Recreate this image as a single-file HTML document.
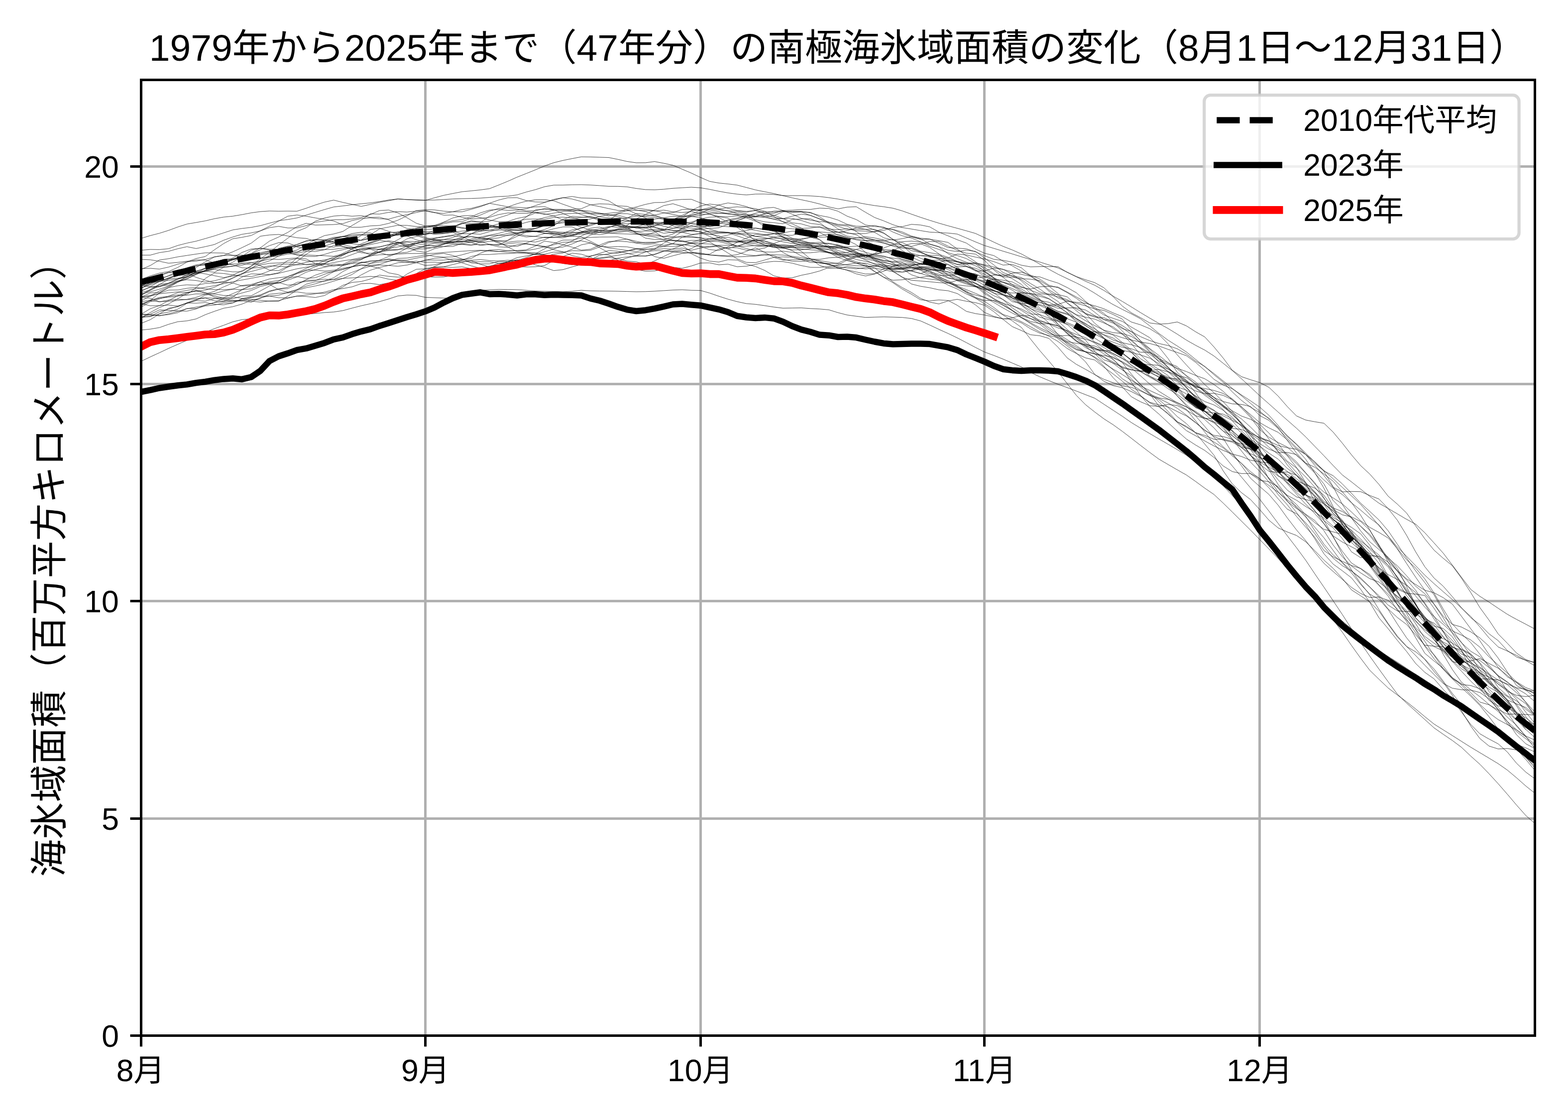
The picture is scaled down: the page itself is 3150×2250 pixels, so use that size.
<!DOCTYPE html>
<html lang="ja"><head><meta charset="utf-8"><title>南極海氷域面積の変化</title>
<style>html,body{margin:0;padding:0;background:#fff;font-family:"Liberation Sans",sans-serif}body{width:3150px;height:2250px;overflow:hidden}</style>
</head><body>
<svg width="3150" height="2250" viewBox="0 0 3150 2250" style="display:block">
<title>1979年から2025年まで（47年分）の南極海氷域面積の変化（8月1日〜12月31日）</title><desc>海氷域面積（百万平方キロメートル） 凡例: 2010年代平均, 2023年, 2025年。 横軸: 8月 9月 10月 11月 12月。 縦軸: 0 5 10 15 20</desc>
<defs><clipPath id="ax"><rect x="283.5" y="160.5" width="2800.0" height="1920.0"/></clipPath></defs>
<rect width="3150" height="2250" fill="#fff"/>
<path d="M854.5,160.5 V2080.5 M1407.5,160.5 V2080.5 M1977.5,160.5 V2080.5 M2530.5,160.5 V2080.5 M283.5,1644.5 H3083.5 M283.5,1207.5 H3083.5 M283.5,771.5 H3083.5 M283.5,334.5 H3083.5" stroke="#b0b0b0" stroke-width="5" fill="none"/>
<g clip-path="url(#ax)">
<path d="M283.5,663.0 L301.9,661.2 L320.3,658.1 L338.8,651.5 L357.2,646.3 L375.6,644.6 L394.0,640.7 L412.4,632.2 L430.9,625.4 L449.3,619.2 L467.7,616.1 L486.1,610.9 L504.6,603.2 L523.0,599.3 L541.4,591.2 L559.8,589.1 L578.2,588.5 L596.7,586.4 L615.1,589.2 L633.5,589.0 L651.9,589.3 L670.3,584.6 L688.8,576.6 L707.2,563.7 L725.6,552.3 L744.0,542.8 L762.4,537.2 L780.9,533.3 L799.3,527.8 L817.7,526.3 L836.1,524.7 L854.6,527.0 L873.0,526.6 L891.4,528.2 L909.8,526.4 L928.2,523.3 L946.7,515.3 L965.1,511.3 L983.5,511.3 L1001.9,509.9 L1020.3,509.5 L1038.8,508.0 L1057.2,508.7 L1075.6,511.5 L1094.0,510.6 L1112.4,506.5 L1130.9,506.7 L1149.3,503.7 L1167.7,503.9 L1186.1,502.9 L1204.6,496.1 L1223.0,487.1 L1241.4,482.6 L1259.8,480.3 L1278.2,484.8 L1296.7,488.5 L1315.1,487.5 L1333.5,484.0 L1351.9,490.3 L1370.3,490.9 L1388.8,494.3 L1407.2,495.0 L1425.6,495.4 L1444.0,492.8 L1462.4,492.8 L1480.9,494.9 L1499.3,488.5 L1517.7,480.4 L1536.1,479.3 L1554.6,478.4 L1573.0,479.4 L1591.4,480.9 L1609.8,483.5 L1628.2,489.1 L1646.7,489.6 L1665.1,488.7 L1683.5,492.9 L1701.9,500.8 L1720.3,509.3 L1738.8,512.8 L1757.2,518.9 L1775.6,526.2 L1794.0,532.2 L1812.4,537.1 L1830.9,536.6 L1849.3,538.8 L1867.7,546.3 L1886.1,550.9 L1904.6,558.8 L1923.0,562.0 L1941.4,565.7 L1959.8,573.6 L1978.2,587.0 L1996.7,599.9 L2015.1,609.7 L2033.5,614.6 L2051.9,620.8 L2070.3,630.7 L2088.8,632.0 L2107.2,639.2 L2125.6,643.8 L2144.0,652.1 L2162.4,667.7 L2180.9,683.6 L2199.3,706.0 L2217.7,722.9 L2236.1,729.1 L2254.6,736.8 L2273.0,742.6 L2291.4,746.8 L2309.8,755.9 L2328.2,764.0 L2346.7,777.3 L2365.1,795.4 L2383.5,815.7 L2401.9,835.5 L2420.3,856.7 L2438.8,878.7 L2457.2,897.6 L2475.6,913.1 L2494.0,930.9 L2512.4,952.1 L2530.9,964.7 L2549.3,967.9 L2567.7,977.5 L2586.1,997.2 L2604.6,1013.6 L2623.0,1034.2 L2641.4,1049.9 L2659.8,1063.4 L2678.2,1068.5 L2696.7,1073.5 L2715.1,1085.7 L2733.5,1100.0 L2751.9,1112.0 L2770.3,1121.9 L2788.8,1139.1 L2807.2,1166.3 L2825.6,1196.1 L2844.0,1220.4 L2862.4,1245.2 L2880.9,1273.1 L2899.3,1300.8 L2917.7,1316.3 L2936.1,1322.1 L2954.6,1332.6 L2973.0,1359.7 L2991.4,1389.4 L3009.8,1409.0 L3028.2,1430.3 L3046.7,1447.2 L3065.1,1452.6 L3083.5,1460.3 M283.5,649.7 L301.9,642.2 L320.3,630.7 L338.8,619.2 L357.2,616.2 L375.6,608.2 L394.0,601.7 L412.4,598.8 L430.9,604.4 L449.3,605.6 L467.7,597.5 L486.1,581.8 L504.6,573.6 L523.0,566.3 L541.4,571.3 L559.8,582.0 L578.2,587.0 L596.7,581.6 L615.1,574.8 L633.5,570.2 L651.9,564.2 L670.3,558.1 L688.8,545.5 L707.2,536.1 L725.6,531.9 L744.0,533.0 L762.4,531.2 L780.9,525.0 L799.3,519.2 L817.7,518.4 L836.1,515.5 L854.6,512.2 L873.0,514.9 L891.4,516.6 L909.8,516.0 L928.2,511.9 L946.7,506.7 L965.1,503.5 L983.5,504.3 L1001.9,505.4 L1020.3,503.7 L1038.8,503.3 L1057.2,502.0 L1075.6,494.2 L1094.0,484.4 L1112.4,487.2 L1130.9,491.8 L1149.3,496.5 L1167.7,502.5 L1186.1,500.7 L1204.6,492.3 L1223.0,485.1 L1241.4,484.6 L1259.8,485.6 L1278.2,488.3 L1296.7,490.9 L1315.1,489.7 L1333.5,492.8 L1351.9,489.3 L1370.3,476.7 L1388.8,472.1 L1407.2,468.8 L1425.6,464.0 L1444.0,465.6 L1462.4,466.7 L1480.9,470.5 L1499.3,471.2 L1517.7,475.0 L1536.1,477.5 L1554.6,481.6 L1573.0,485.9 L1591.4,489.1 L1609.8,490.8 L1628.2,492.3 L1646.7,502.3 L1665.1,508.5 L1683.5,513.0 L1701.9,518.8 L1720.3,526.0 L1738.8,530.6 L1757.2,545.4 L1775.6,557.0 L1794.0,563.0 L1812.4,562.0 L1830.9,559.6 L1849.3,557.2 L1867.7,554.5 L1886.1,559.7 L1904.6,567.3 L1923.0,577.3 L1941.4,584.9 L1959.8,597.4 L1978.2,603.5 L1996.7,603.6 L2015.1,608.8 L2033.5,623.4 L2051.9,634.4 L2070.3,639.7 L2088.8,650.7 L2107.2,666.1 L2125.6,680.5 L2144.0,695.0 L2162.4,709.2 L2180.9,727.1 L2199.3,752.1 L2217.7,765.9 L2236.1,774.7 L2254.6,778.7 L2273.0,786.7 L2291.4,796.1 L2309.8,808.0 L2328.2,813.5 L2346.7,817.6 L2365.1,826.7 L2383.5,835.6 L2401.9,849.2 L2420.3,864.0 L2438.8,876.9 L2457.2,884.2 L2475.6,888.2 L2494.0,898.5 L2512.4,902.2 L2530.9,912.9 L2549.3,923.3 L2567.7,940.9 L2586.1,956.7 L2604.6,966.8 L2623.0,973.4 L2641.4,980.6 L2659.8,994.9 L2678.2,1021.4 L2696.7,1053.1 L2715.1,1076.4 L2733.5,1095.1 L2751.9,1117.6 L2770.3,1148.2 L2788.8,1183.1 L2807.2,1214.9 L2825.6,1243.8 L2844.0,1271.2 L2862.4,1297.3 L2880.9,1315.2 L2899.3,1338.0 L2917.7,1361.9 L2936.1,1373.3 L2954.6,1391.5 L2973.0,1410.4 L2991.4,1415.9 L3009.8,1426.3 L3028.2,1449.4 L3046.7,1476.2 L3065.1,1494.1 L3083.5,1503.9 M283.5,587.6 L301.9,582.8 L320.3,574.8 L338.8,568.5 L357.2,560.9 L375.6,551.6 L394.0,544.4 L412.4,539.9 L430.9,535.5 L449.3,531.0 L467.7,520.6 L486.1,515.6 L504.6,512.3 L523.0,509.8 L541.4,505.0 L559.8,500.2 L578.2,495.0 L596.7,496.0 L615.1,500.4 L633.5,501.8 L651.9,501.6 L670.3,500.8 L688.8,498.3 L707.2,498.0 L725.6,493.9 L744.0,488.2 L762.4,482.7 L780.9,485.4 L799.3,492.3 L817.7,496.3 L836.1,488.5 L854.6,484.3 L873.0,479.0 L891.4,476.1 L909.8,473.6 L928.2,476.3 L946.7,475.2 L965.1,477.6 L983.5,479.7 L1001.9,486.8 L1020.3,496.2 L1038.8,505.4 L1057.2,506.9 L1075.6,507.6 L1094.0,512.0 L1112.4,514.1 L1130.9,518.3 L1149.3,522.8 L1167.7,522.3 L1186.1,522.9 L1204.6,524.2 L1223.0,523.8 L1241.4,518.6 L1259.8,516.1 L1278.2,514.6 L1296.7,514.0 L1315.1,510.6 L1333.5,504.1 L1351.9,504.0 L1370.3,501.6 L1388.8,509.6 L1407.2,518.6 L1425.6,524.6 L1444.0,526.4 L1462.4,521.8 L1480.9,522.4 L1499.3,530.5 L1517.7,535.4 L1536.1,543.2 L1554.6,554.2 L1573.0,558.4 L1591.4,558.0 L1609.8,553.0 L1628.2,549.3 L1646.7,544.4 L1665.1,537.3 L1683.5,535.9 L1701.9,538.3 L1720.3,540.0 L1738.8,537.5 L1757.2,533.7 L1775.6,531.7 L1794.0,535.2 L1812.4,539.8 L1830.9,552.0 L1849.3,558.0 L1867.7,560.6 L1886.1,562.9 L1904.6,572.8 L1923.0,580.5 L1941.4,590.6 L1959.8,598.8 L1978.2,605.7 L1996.7,617.9 L2015.1,631.9 L2033.5,637.6 L2051.9,646.3 L2070.3,656.4 L2088.8,666.9 L2107.2,675.4 L2125.6,686.0 L2144.0,700.1 L2162.4,710.3 L2180.9,719.0 L2199.3,723.2 L2217.7,737.8 L2236.1,751.1 L2254.6,765.6 L2273.0,782.2 L2291.4,794.7 L2309.8,809.3 L2328.2,817.4 L2346.7,830.5 L2365.1,849.0 L2383.5,865.2 L2401.9,875.4 L2420.3,885.8 L2438.8,895.9 L2457.2,904.8 L2475.6,912.2 L2494.0,917.0 L2512.4,924.6 L2530.9,927.8 L2549.3,930.1 L2567.7,941.0 L2586.1,957.6 L2604.6,977.5 L2623.0,1004.6 L2641.4,1026.5 L2659.8,1046.1 L2678.2,1060.3 L2696.7,1082.1 L2715.1,1108.6 L2733.5,1120.3 L2751.9,1116.4 L2770.3,1117.5 L2788.8,1129.2 L2807.2,1147.4 L2825.6,1164.5 L2844.0,1185.8 L2862.4,1213.7 L2880.9,1243.5 L2899.3,1269.9 L2917.7,1292.6 L2936.1,1322.4 L2954.6,1342.2 L2973.0,1353.0 L2991.4,1360.1 L3009.8,1370.2 L3028.2,1385.6 L3046.7,1405.2 L3065.1,1430.6 L3083.5,1453.4 M283.5,610.5 L301.9,604.1 L320.3,597.5 L338.8,595.3 L357.2,592.5 L375.6,593.1 L394.0,590.4 L412.4,590.6 L430.9,594.1 L449.3,599.1 L467.7,600.2 L486.1,594.8 L504.6,594.1 L523.0,584.6 L541.4,574.3 L559.8,565.1 L578.2,555.4 L596.7,548.0 L615.1,539.0 L633.5,531.7 L651.9,530.2 L670.3,519.9 L688.8,508.9 L707.2,499.9 L725.6,489.8 L744.0,483.0 L762.4,479.0 L780.9,475.5 L799.3,472.2 L817.7,464.8 L836.1,468.4 L854.6,471.5 L873.0,466.8 L891.4,463.7 L909.8,464.4 L928.2,469.6 L946.7,469.5 L965.1,470.6 L983.5,465.3 L1001.9,460.7 L1020.3,452.3 L1038.8,452.0 L1057.2,446.8 L1075.6,442.5 L1094.0,437.1 L1112.4,433.6 L1130.9,429.9 L1149.3,428.8 L1167.7,428.2 L1186.1,429.6 L1204.6,430.2 L1223.0,428.4 L1241.4,426.5 L1259.8,419.8 L1278.2,415.8 L1296.7,410.6 L1315.1,406.9 L1333.5,406.7 L1351.9,402.1 L1370.3,400.6 L1388.8,400.3 L1407.2,407.7 L1425.6,413.2 L1444.0,420.1 L1462.4,423.8 L1480.9,423.9 L1499.3,426.4 L1517.7,422.3 L1536.1,418.1 L1554.6,416.6 L1573.0,422.8 L1591.4,430.2 L1609.8,438.6 L1628.2,442.4 L1646.7,445.0 L1665.1,446.4 L1683.5,450.7 L1701.9,451.9 L1720.3,457.1 L1738.8,460.7 L1757.2,460.7 L1775.6,468.0 L1794.0,481.0 L1812.4,493.7 L1830.9,503.5 L1849.3,507.4 L1867.7,513.7 L1886.1,520.5 L1904.6,531.7 L1923.0,540.8 L1941.4,546.5 L1959.8,550.6 L1978.2,556.6 L1996.7,560.3 L2015.1,563.0 L2033.5,566.3 L2051.9,576.0 L2070.3,583.3 L2088.8,590.0 L2107.2,591.9 L2125.6,596.3 L2144.0,601.9 L2162.4,612.8 L2180.9,629.5 L2199.3,649.5 L2217.7,664.1 L2236.1,672.9 L2254.6,688.2 L2273.0,703.8 L2291.4,720.8 L2309.8,732.3 L2328.2,734.1 L2346.7,741.5 L2365.1,753.3 L2383.5,768.2 L2401.9,777.6 L2420.3,780.5 L2438.8,784.4 L2457.2,790.4 L2475.6,801.2 L2494.0,817.6 L2512.4,833.0 L2530.9,849.2 L2549.3,859.7 L2567.7,868.5 L2586.1,883.6 L2604.6,901.9 L2623.0,922.6 L2641.4,949.9 L2659.8,981.0 L2678.2,1017.9 L2696.7,1052.4 L2715.1,1080.8 L2733.5,1108.9 L2751.9,1134.3 L2770.3,1157.8 L2788.8,1186.6 L2807.2,1209.9 L2825.6,1226.6 L2844.0,1253.0 L2862.4,1282.9 L2880.9,1299.0 L2899.3,1307.6 L2917.7,1320.8 L2936.1,1337.5 L2954.6,1353.7 L2973.0,1363.9 L2991.4,1364.0 L3009.8,1365.8 L3028.2,1375.6 L3046.7,1391.7 L3065.1,1410.4 L3083.5,1430.5 M283.5,575.0 L301.9,569.3 L320.3,564.7 L338.8,558.9 L357.2,553.0 L375.6,552.7 L394.0,548.3 L412.4,544.5 L430.9,547.0 L449.3,537.2 L467.7,535.0 L486.1,528.5 L504.6,526.9 L523.0,533.6 L541.4,542.7 L559.8,543.8 L578.2,535.2 L596.7,517.9 L615.1,505.5 L633.5,496.6 L651.9,489.0 L670.3,479.4 L688.8,474.9 L707.2,478.4 L725.6,482.8 L744.0,477.2 L762.4,478.8 L780.9,472.7 L799.3,471.2 L817.7,467.3 L836.1,464.6 L854.6,461.1 L873.0,459.9 L891.4,459.3 L909.8,455.6 L928.2,449.1 L946.7,449.2 L965.1,448.5 L983.5,452.5 L1001.9,456.7 L1020.3,457.8 L1038.8,457.7 L1057.2,463.1 L1075.6,465.7 L1094.0,461.1 L1112.4,453.4 L1130.9,440.6 L1149.3,434.5 L1167.7,436.1 L1186.1,437.2 L1204.6,439.1 L1223.0,445.5 L1241.4,453.9 L1259.8,459.2 L1278.2,467.5 L1296.7,478.4 L1315.1,481.1 L1333.5,481.0 L1351.9,476.8 L1370.3,465.2 L1388.8,462.2 L1407.2,466.4 L1425.6,474.9 L1444.0,483.4 L1462.4,486.8 L1480.9,494.7 L1499.3,494.4 L1517.7,493.5 L1536.1,493.1 L1554.6,495.4 L1573.0,496.6 L1591.4,495.8 L1609.8,497.4 L1628.2,496.2 L1646.7,498.9 L1665.1,501.9 L1683.5,508.1 L1701.9,507.3 L1720.3,501.0 L1738.8,497.0 L1757.2,499.5 L1775.6,501.3 L1794.0,502.8 L1812.4,507.0 L1830.9,508.8 L1849.3,513.6 L1867.7,512.8 L1886.1,513.6 L1904.6,519.2 L1923.0,525.1 L1941.4,534.4 L1959.8,544.5 L1978.2,544.3 L1996.7,538.7 L2015.1,541.2 L2033.5,546.2 L2051.9,551.2 L2070.3,554.9 L2088.8,556.2 L2107.2,563.0 L2125.6,568.7 L2144.0,577.7 L2162.4,588.2 L2180.9,605.5 L2199.3,620.4 L2217.7,632.7 L2236.1,639.5 L2254.6,645.6 L2273.0,657.2 L2291.4,667.7 L2309.8,678.4 L2328.2,697.2 L2346.7,720.4 L2365.1,748.1 L2383.5,763.8 L2401.9,779.9 L2420.3,794.1 L2438.8,807.0 L2457.2,822.8 L2475.6,845.4 L2494.0,865.8 L2512.4,882.3 L2530.9,896.2 L2549.3,910.4 L2567.7,922.4 L2586.1,941.0 L2604.6,954.4 L2623.0,969.4 L2641.4,987.8 L2659.8,1007.6 L2678.2,1020.6 L2696.7,1027.5 L2715.1,1039.9 L2733.5,1057.3 L2751.9,1073.6 L2770.3,1095.7 L2788.8,1121.4 L2807.2,1136.7 L2825.6,1156.5 L2844.0,1177.7 L2862.4,1192.8 L2880.9,1213.8 L2899.3,1241.2 L2917.7,1272.3 L2936.1,1300.7 L2954.6,1324.2 L2973.0,1340.3 L2991.4,1354.2 L3009.8,1366.2 L3028.2,1374.2 L3046.7,1381.6 L3065.1,1384.7 L3083.5,1392.5 M283.5,617.2 L301.9,606.0 L320.3,600.4 L338.8,595.0 L357.2,588.0 L375.6,587.6 L394.0,584.6 L412.4,582.8 L430.9,577.0 L449.3,568.0 L467.7,558.7 L486.1,549.6 L504.6,545.4 L523.0,540.5 L541.4,536.2 L559.8,531.0 L578.2,530.4 L596.7,532.2 L615.1,531.3 L633.5,529.4 L651.9,529.7 L670.3,534.4 L688.8,531.1 L707.2,522.5 L725.6,520.4 L744.0,512.3 L762.4,505.7 L780.9,499.1 L799.3,487.3 L817.7,490.6 L836.1,493.8 L854.6,497.6 L873.0,497.4 L891.4,491.3 L909.8,482.3 L928.2,477.0 L946.7,475.6 L965.1,478.6 L983.5,480.9 L1001.9,488.9 L1020.3,493.3 L1038.8,495.1 L1057.2,488.1 L1075.6,481.4 L1094.0,476.4 L1112.4,476.6 L1130.9,477.9 L1149.3,472.8 L1167.7,466.6 L1186.1,463.4 L1204.6,459.5 L1223.0,455.0 L1241.4,456.9 L1259.8,453.8 L1278.2,458.4 L1296.7,456.7 L1315.1,453.2 L1333.5,447.0 L1351.9,447.5 L1370.3,448.8 L1388.8,446.2 L1407.2,440.3 L1425.6,441.3 L1444.0,445.2 L1462.4,448.4 L1480.9,443.7 L1499.3,435.6 L1517.7,435.9 L1536.1,435.3 L1554.6,433.3 L1573.0,425.5 L1591.4,424.4 L1609.8,424.5 L1628.2,427.8 L1646.7,432.9 L1665.1,436.4 L1683.5,442.1 L1701.9,450.7 L1720.3,454.4 L1738.8,454.7 L1757.2,462.4 L1775.6,468.8 L1794.0,481.0 L1812.4,492.5 L1830.9,509.5 L1849.3,518.9 L1867.7,525.1 L1886.1,526.9 L1904.6,523.0 L1923.0,525.6 L1941.4,528.1 L1959.8,528.6 L1978.2,533.7 L1996.7,540.7 L2015.1,551.1 L2033.5,559.9 L2051.9,571.3 L2070.3,589.6 L2088.8,602.1 L2107.2,613.9 L2125.6,614.8 L2144.0,628.7 L2162.4,646.9 L2180.9,661.2 L2199.3,671.2 L2217.7,680.6 L2236.1,687.3 L2254.6,694.3 L2273.0,708.5 L2291.4,725.4 L2309.8,741.6 L2328.2,753.3 L2346.7,759.3 L2365.1,761.1 L2383.5,768.3 L2401.9,776.2 L2420.3,783.4 L2438.8,798.4 L2457.2,816.4 L2475.6,833.6 L2494.0,849.1 L2512.4,870.7 L2530.9,896.0 L2549.3,917.0 L2567.7,936.0 L2586.1,956.9 L2604.6,975.5 L2623.0,993.2 L2641.4,1006.3 L2659.8,1022.1 L2678.2,1043.4 L2696.7,1058.8 L2715.1,1077.6 L2733.5,1096.1 L2751.9,1118.5 L2770.3,1142.9 L2788.8,1165.1 L2807.2,1188.8 L2825.6,1215.8 L2844.0,1241.9 L2862.4,1261.3 L2880.9,1284.9 L2899.3,1309.8 L2917.7,1329.4 L2936.1,1332.4 L2954.6,1327.3 L2973.0,1323.0 L2991.4,1332.9 L3009.8,1342.3 L3028.2,1357.0 L3046.7,1371.6 L3065.1,1386.3 L3083.5,1400.5 M283.5,614.2 L301.9,603.5 L320.3,588.8 L338.8,577.6 L357.2,574.1 L375.6,572.2 L394.0,573.1 L412.4,569.5 L430.9,568.5 L449.3,566.8 L467.7,568.5 L486.1,574.5 L504.6,573.7 L523.0,571.1 L541.4,566.1 L559.8,563.6 L578.2,558.0 L596.7,555.6 L615.1,559.2 L633.5,557.8 L651.9,551.0 L670.3,544.8 L688.8,541.4 L707.2,535.9 L725.6,533.0 L744.0,534.6 L762.4,539.3 L780.9,548.2 L799.3,551.5 L817.7,560.2 L836.1,561.5 L854.6,556.0 L873.0,556.7 L891.4,556.4 L909.8,552.8 L928.2,550.7 L946.7,549.0 L965.1,547.8 L983.5,539.8 L1001.9,532.2 L1020.3,525.5 L1038.8,517.5 L1057.2,514.3 L1075.6,510.5 L1094.0,505.8 L1112.4,500.4 L1130.9,492.2 L1149.3,484.3 L1167.7,474.0 L1186.1,465.8 L1204.6,463.3 L1223.0,462.7 L1241.4,459.8 L1259.8,452.7 L1278.2,439.7 L1296.7,430.9 L1315.1,421.7 L1333.5,413.1 L1351.9,409.3 L1370.3,415.0 L1388.8,421.7 L1407.2,421.5 L1425.6,421.9 L1444.0,425.0 L1462.4,430.0 L1480.9,430.8 L1499.3,430.6 L1517.7,434.2 L1536.1,431.4 L1554.6,436.9 L1573.0,439.5 L1591.4,438.9 L1609.8,442.9 L1628.2,448.9 L1646.7,450.9 L1665.1,458.9 L1683.5,466.4 L1701.9,474.4 L1720.3,477.7 L1738.8,478.8 L1757.2,482.4 L1775.6,488.1 L1794.0,492.6 L1812.4,496.5 L1830.9,498.5 L1849.3,505.9 L1867.7,515.0 L1886.1,518.2 L1904.6,525.8 L1923.0,536.3 L1941.4,551.9 L1959.8,562.8 L1978.2,573.5 L1996.7,583.2 L2015.1,592.7 L2033.5,602.5 L2051.9,612.6 L2070.3,623.9 L2088.8,637.2 L2107.2,642.1 L2125.6,645.4 L2144.0,650.7 L2162.4,658.9 L2180.9,666.4 L2199.3,666.4 L2217.7,668.3 L2236.1,672.1 L2254.6,678.4 L2273.0,683.2 L2291.4,687.2 L2309.8,690.1 L2328.2,695.1 L2346.7,701.9 L2365.1,708.1 L2383.5,714.6 L2401.9,727.9 L2420.3,744.2 L2438.8,762.0 L2457.2,773.5 L2475.6,781.0 L2494.0,793.4 L2512.4,805.4 L2530.9,818.0 L2549.3,834.4 L2567.7,854.6 L2586.1,876.6 L2604.6,893.1 L2623.0,913.1 L2641.4,934.9 L2659.8,955.5 L2678.2,978.9 L2696.7,988.1 L2715.1,987.3 L2733.5,987.7 L2751.9,995.4 L2770.3,1002.5 L2788.8,1021.8 L2807.2,1045.1 L2825.6,1075.2 L2844.0,1108.7 L2862.4,1138.6 L2880.9,1161.2 L2899.3,1177.7 L2917.7,1198.7 L2936.1,1221.1 L2954.6,1240.9 L2973.0,1254.8 L2991.4,1273.3 L3009.8,1287.0 L3028.2,1306.9 L3046.7,1319.9 L3065.1,1326.4 L3083.5,1330.9 M283.5,512.6 L301.9,512.5 L320.3,507.5 L338.8,504.8 L357.2,499.7 L375.6,495.6 L394.0,499.3 L412.4,495.5 L430.9,491.2 L449.3,482.6 L467.7,476.1 L486.1,470.7 L504.6,467.9 L523.0,463.9 L541.4,457.3 L559.8,454.7 L578.2,458.0 L596.7,457.8 L615.1,453.3 L633.5,446.6 L651.9,443.9 L670.3,441.4 L688.8,441.4 L707.2,440.0 L725.6,436.9 L744.0,430.9 L762.4,423.0 L780.9,421.9 L799.3,427.7 L817.7,437.5 L836.1,448.4 L854.6,454.2 L873.0,454.1 L891.4,460.4 L909.8,456.5 L928.2,449.6 L946.7,443.4 L965.1,445.9 L983.5,452.2 L1001.9,455.0 L1020.3,459.0 L1038.8,458.1 L1057.2,459.9 L1075.6,458.8 L1094.0,453.1 L1112.4,449.7 L1130.9,447.8 L1149.3,444.4 L1167.7,444.0 L1186.1,440.1 L1204.6,434.7 L1223.0,431.3 L1241.4,432.3 L1259.8,437.4 L1278.2,441.5 L1296.7,444.1 L1315.1,447.5 L1333.5,449.9 L1351.9,445.4 L1370.3,441.6 L1388.8,435.2 L1407.2,433.0 L1425.6,428.8 L1444.0,428.6 L1462.4,429.6 L1480.9,432.0 L1499.3,437.7 L1517.7,444.4 L1536.1,450.0 L1554.6,462.9 L1573.0,472.6 L1591.4,472.7 L1609.8,468.2 L1628.2,468.8 L1646.7,481.7 L1665.1,498.0 L1683.5,511.0 L1701.9,512.4 L1720.3,509.6 L1738.8,513.3 L1757.2,513.3 L1775.6,515.9 L1794.0,518.5 L1812.4,521.3 L1830.9,525.9 L1849.3,529.5 L1867.7,529.6 L1886.1,531.1 L1904.6,538.3 L1923.0,546.4 L1941.4,554.2 L1959.8,561.2 L1978.2,567.9 L1996.7,566.1 L2015.1,566.8 L2033.5,571.3 L2051.9,577.5 L2070.3,580.6 L2088.8,576.1 L2107.2,575.3 L2125.6,576.7 L2144.0,586.8 L2162.4,596.6 L2180.9,607.2 L2199.3,617.5 L2217.7,629.6 L2236.1,646.4 L2254.6,658.3 L2273.0,671.8 L2291.4,689.0 L2309.8,707.4 L2328.2,727.5 L2346.7,741.4 L2365.1,751.3 L2383.5,765.7 L2401.9,789.5 L2420.3,814.3 L2438.8,835.0 L2457.2,854.5 L2475.6,875.3 L2494.0,890.3 L2512.4,896.5 L2530.9,910.3 L2549.3,925.5 L2567.7,946.7 L2586.1,971.6 L2604.6,992.6 L2623.0,1012.8 L2641.4,1031.9 L2659.8,1052.4 L2678.2,1079.0 L2696.7,1107.7 L2715.1,1131.1 L2733.5,1142.5 L2751.9,1157.3 L2770.3,1176.1 L2788.8,1197.7 L2807.2,1226.0 L2825.6,1245.5 L2844.0,1263.8 L2862.4,1288.4 L2880.9,1316.3 L2899.3,1343.1 L2917.7,1361.1 L2936.1,1376.4 L2954.6,1395.9 L2973.0,1415.1 L2991.4,1432.1 L3009.8,1445.7 L3028.2,1455.6 L3046.7,1466.5 L3065.1,1478.6 L3083.5,1486.9 M283.5,573.2 L301.9,576.1 L320.3,574.8 L338.8,572.5 L357.2,565.2 L375.6,556.6 L394.0,545.6 L412.4,538.4 L430.9,531.5 L449.3,529.6 L467.7,532.1 L486.1,537.9 L504.6,538.6 L523.0,537.4 L541.4,534.1 L559.8,534.9 L578.2,536.4 L596.7,531.1 L615.1,527.2 L633.5,523.3 L651.9,525.2 L670.3,523.1 L688.8,513.0 L707.2,500.4 L725.6,493.2 L744.0,486.7 L762.4,480.0 L780.9,478.4 L799.3,467.8 L817.7,464.3 L836.1,465.8 L854.6,465.0 L873.0,466.3 L891.4,461.7 L909.8,456.0 L928.2,447.6 L946.7,445.4 L965.1,446.0 L983.5,444.5 L1001.9,437.6 L1020.3,431.8 L1038.8,424.5 L1057.2,425.2 L1075.6,426.7 L1094.0,426.0 L1112.4,422.5 L1130.9,422.3 L1149.3,420.5 L1167.7,419.3 L1186.1,411.5 L1204.6,409.5 L1223.0,410.1 L1241.4,413.5 L1259.8,414.5 L1278.2,421.9 L1296.7,424.9 L1315.1,432.3 L1333.5,438.8 L1351.9,440.7 L1370.3,443.2 L1388.8,449.5 L1407.2,453.8 L1425.6,460.1 L1444.0,465.6 L1462.4,466.8 L1480.9,469.5 L1499.3,467.9 L1517.7,468.7 L1536.1,471.7 L1554.6,476.6 L1573.0,481.0 L1591.4,485.5 L1609.8,481.1 L1628.2,476.8 L1646.7,473.9 L1665.1,470.2 L1683.5,470.9 L1701.9,476.9 L1720.3,481.2 L1738.8,483.3 L1757.2,485.1 L1775.6,488.5 L1794.0,494.7 L1812.4,498.8 L1830.9,499.6 L1849.3,506.6 L1867.7,515.3 L1886.1,520.4 L1904.6,518.1 L1923.0,510.4 L1941.4,512.2 L1959.8,516.5 L1978.2,520.3 L1996.7,525.6 L2015.1,532.5 L2033.5,531.2 L2051.9,537.9 L2070.3,554.1 L2088.8,565.9 L2107.2,582.4 L2125.6,593.2 L2144.0,608.7 L2162.4,624.3 L2180.9,639.1 L2199.3,659.7 L2217.7,678.8 L2236.1,693.5 L2254.6,710.0 L2273.0,723.6 L2291.4,729.8 L2309.8,733.5 L2328.2,746.8 L2346.7,765.0 L2365.1,785.1 L2383.5,802.8 L2401.9,816.5 L2420.3,825.9 L2438.8,840.7 L2457.2,857.0 L2475.6,882.1 L2494.0,905.9 L2512.4,928.6 L2530.9,947.3 L2549.3,968.5 L2567.7,993.6 L2586.1,1014.1 L2604.6,1037.5 L2623.0,1058.8 L2641.4,1079.4 L2659.8,1106.0 L2678.2,1118.7 L2696.7,1127.8 L2715.1,1136.1 L2733.5,1142.0 L2751.9,1154.2 L2770.3,1175.1 L2788.8,1193.6 L2807.2,1214.0 L2825.6,1239.3 L2844.0,1260.9 L2862.4,1278.6 L2880.9,1292.1 L2899.3,1304.9 L2917.7,1318.7 L2936.1,1333.7 L2954.6,1356.3 L2973.0,1382.1 L2991.4,1407.0 L3009.8,1418.2 L3028.2,1421.6 L3046.7,1431.4 L3065.1,1442.1 L3083.5,1456.1 M283.5,575.6 L301.9,564.6 L320.3,560.2 L338.8,554.3 L357.2,549.0 L375.6,540.6 L394.0,534.4 L412.4,530.8 L430.9,528.8 L449.3,526.3 L467.7,522.2 L486.1,517.4 L504.6,513.7 L523.0,512.3 L541.4,507.1 L559.8,501.3 L578.2,506.1 L596.7,507.2 L615.1,498.6 L633.5,488.5 L651.9,484.8 L670.3,480.6 L688.8,475.4 L707.2,469.3 L725.6,466.5 L744.0,467.9 L762.4,475.3 L780.9,477.8 L799.3,469.6 L817.7,462.0 L836.1,458.3 L854.6,454.6 L873.0,452.9 L891.4,446.2 L909.8,437.8 L928.2,433.7 L946.7,432.8 L965.1,437.3 L983.5,442.1 L1001.9,445.4 L1020.3,444.8 L1038.8,438.8 L1057.2,435.1 L1075.6,428.0 L1094.0,429.6 L1112.4,433.9 L1130.9,442.1 L1149.3,449.7 L1167.7,456.3 L1186.1,462.1 L1204.6,463.7 L1223.0,464.8 L1241.4,460.9 L1259.8,459.8 L1278.2,455.2 L1296.7,450.3 L1315.1,456.0 L1333.5,463.5 L1351.9,467.5 L1370.3,466.9 L1388.8,463.2 L1407.2,460.4 L1425.6,467.7 L1444.0,477.1 L1462.4,485.8 L1480.9,486.1 L1499.3,484.0 L1517.7,484.2 L1536.1,480.9 L1554.6,475.9 L1573.0,475.7 L1591.4,479.8 L1609.8,479.9 L1628.2,476.7 L1646.7,481.5 L1665.1,494.0 L1683.5,503.4 L1701.9,507.9 L1720.3,512.9 L1738.8,517.5 L1757.2,509.2 L1775.6,498.0 L1794.0,491.5 L1812.4,485.6 L1830.9,484.3 L1849.3,486.5 L1867.7,490.8 L1886.1,496.1 L1904.6,509.8 L1923.0,519.6 L1941.4,526.9 L1959.8,534.1 L1978.2,544.0 L1996.7,557.7 L2015.1,575.5 L2033.5,593.8 L2051.9,609.9 L2070.3,619.6 L2088.8,632.4 L2107.2,648.9 L2125.6,672.5 L2144.0,692.1 L2162.4,702.8 L2180.9,706.9 L2199.3,711.2 L2217.7,717.2 L2236.1,727.1 L2254.6,739.1 L2273.0,743.2 L2291.4,745.2 L2309.8,744.7 L2328.2,742.0 L2346.7,747.3 L2365.1,763.3 L2383.5,775.5 L2401.9,785.4 L2420.3,790.9 L2438.8,790.1 L2457.2,794.3 L2475.6,803.0 L2494.0,819.9 L2512.4,838.9 L2530.9,863.0 L2549.3,878.4 L2567.7,889.0 L2586.1,898.1 L2604.6,915.0 L2623.0,930.3 L2641.4,938.6 L2659.8,952.4 L2678.2,966.7 L2696.7,988.1 L2715.1,1009.7 L2733.5,1035.1 L2751.9,1064.7 L2770.3,1098.0 L2788.8,1124.7 L2807.2,1147.3 L2825.6,1174.1 L2844.0,1197.4 L2862.4,1219.7 L2880.9,1238.9 L2899.3,1254.2 L2917.7,1270.8 L2936.1,1290.7 L2954.6,1316.7 L2973.0,1347.0 L2991.4,1369.7 L3009.8,1393.1 L3028.2,1411.6 L3046.7,1433.4 L3065.1,1447.6 L3083.5,1456.6 M283.5,631.0 L301.9,631.5 L320.3,634.6 L338.8,630.4 L357.2,625.5 L375.6,620.1 L394.0,617.0 L412.4,613.4 L430.9,607.9 L449.3,599.3 L467.7,596.1 L486.1,599.5 L504.6,605.0 L523.0,606.9 L541.4,604.5 L559.8,603.8 L578.2,599.1 L596.7,594.7 L615.1,592.7 L633.5,590.2 L651.9,586.8 L670.3,581.8 L688.8,579.7 L707.2,576.3 L725.6,569.9 L744.0,569.2 L762.4,571.8 L780.9,568.3 L799.3,563.2 L817.7,550.6 L836.1,541.0 L854.6,540.0 L873.0,536.5 L891.4,536.0 L909.8,531.4 L928.2,527.1 L946.7,522.9 L965.1,521.4 L983.5,523.5 L1001.9,524.3 L1020.3,522.8 L1038.8,523.3 L1057.2,522.1 L1075.6,522.2 L1094.0,515.6 L1112.4,510.6 L1130.9,508.3 L1149.3,500.5 L1167.7,491.9 L1186.1,488.2 L1204.6,494.6 L1223.0,496.2 L1241.4,495.4 L1259.8,495.9 L1278.2,499.5 L1296.7,503.9 L1315.1,515.6 L1333.5,518.9 L1351.9,513.8 L1370.3,509.1 L1388.8,507.0 L1407.2,508.4 L1425.6,512.0 L1444.0,513.0 L1462.4,513.9 L1480.9,511.6 L1499.3,505.0 L1517.7,497.8 L1536.1,506.8 L1554.6,517.0 L1573.0,522.6 L1591.4,521.9 L1609.8,521.8 L1628.2,519.7 L1646.7,525.4 L1665.1,532.2 L1683.5,533.8 L1701.9,531.2 L1720.3,528.5 L1738.8,534.8 L1757.2,545.8 L1775.6,557.3 L1794.0,568.0 L1812.4,580.7 L1830.9,591.0 L1849.3,602.2 L1867.7,604.3 L1886.1,602.6 L1904.6,603.6 L1923.0,613.3 L1941.4,625.5 L1959.8,630.0 L1978.2,632.8 L1996.7,636.9 L2015.1,640.5 L2033.5,641.4 L2051.9,648.5 L2070.3,660.6 L2088.8,669.2 L2107.2,674.0 L2125.6,678.4 L2144.0,689.2 L2162.4,701.2 L2180.9,706.3 L2199.3,710.6 L2217.7,714.4 L2236.1,717.1 L2254.6,728.3 L2273.0,739.5 L2291.4,755.1 L2309.8,771.6 L2328.2,786.1 L2346.7,797.7 L2365.1,809.3 L2383.5,817.4 L2401.9,826.4 L2420.3,839.2 L2438.8,849.7 L2457.2,866.1 L2475.6,875.2 L2494.0,889.7 L2512.4,914.6 L2530.9,940.6 L2549.3,960.6 L2567.7,981.0 L2586.1,995.1 L2604.6,1004.9 L2623.0,1017.4 L2641.4,1028.5 L2659.8,1041.2 L2678.2,1057.2 L2696.7,1071.7 L2715.1,1083.2 L2733.5,1100.5 L2751.9,1125.8 L2770.3,1151.3 L2788.8,1176.6 L2807.2,1205.6 L2825.6,1232.3 L2844.0,1265.4 L2862.4,1298.4 L2880.9,1323.3 L2899.3,1344.8 L2917.7,1363.8 L2936.1,1381.4 L2954.6,1398.6 L2973.0,1417.4 L2991.4,1439.9 L3009.8,1464.7 L3028.2,1485.6 L3046.7,1505.0 L3065.1,1525.5 L3083.5,1547.7 M283.5,604.5 L301.9,594.7 L320.3,584.6 L338.8,575.7 L357.2,564.9 L375.6,562.0 L394.0,563.6 L412.4,566.7 L430.9,564.0 L449.3,559.1 L467.7,552.6 L486.1,543.9 L504.6,535.0 L523.0,523.7 L541.4,513.4 L559.8,498.8 L578.2,494.6 L596.7,491.3 L615.1,484.6 L633.5,480.8 L651.9,482.6 L670.3,486.4 L688.8,495.4 L707.2,498.0 L725.6,495.7 L744.0,497.8 L762.4,496.3 L780.9,491.3 L799.3,481.6 L817.7,471.0 L836.1,459.3 L854.6,454.6 L873.0,452.7 L891.4,453.7 L909.8,454.1 L928.2,457.0 L946.7,462.7 L965.1,464.2 L983.5,456.1 L1001.9,454.9 L1020.3,459.3 L1038.8,463.4 L1057.2,465.1 L1075.6,465.6 L1094.0,464.7 L1112.4,459.6 L1130.9,455.9 L1149.3,455.9 L1167.7,464.3 L1186.1,469.5 L1204.6,471.5 L1223.0,468.3 L1241.4,466.9 L1259.8,464.7 L1278.2,469.4 L1296.7,473.6 L1315.1,476.2 L1333.5,481.5 L1351.9,483.6 L1370.3,485.5 L1388.8,482.9 L1407.2,482.9 L1425.6,481.8 L1444.0,476.6 L1462.4,472.3 L1480.9,466.3 L1499.3,463.4 L1517.7,458.7 L1536.1,461.5 L1554.6,457.0 L1573.0,457.8 L1591.4,459.7 L1609.8,460.9 L1628.2,462.7 L1646.7,467.1 L1665.1,476.8 L1683.5,482.0 L1701.9,480.7 L1720.3,478.1 L1738.8,475.5 L1757.2,478.1 L1775.6,482.0 L1794.0,489.9 L1812.4,492.4 L1830.9,495.0 L1849.3,490.2 L1867.7,485.3 L1886.1,485.2 L1904.6,494.5 L1923.0,502.9 L1941.4,508.7 L1959.8,510.4 L1978.2,523.4 L1996.7,542.5 L2015.1,557.2 L2033.5,571.9 L2051.9,584.1 L2070.3,596.3 L2088.8,603.6 L2107.2,607.2 L2125.6,615.9 L2144.0,628.0 L2162.4,640.1 L2180.9,649.9 L2199.3,664.3 L2217.7,679.2 L2236.1,692.4 L2254.6,697.6 L2273.0,700.7 L2291.4,707.6 L2309.8,707.9 L2328.2,717.2 L2346.7,738.2 L2365.1,758.3 L2383.5,778.9 L2401.9,799.7 L2420.3,818.3 L2438.8,833.5 L2457.2,847.4 L2475.6,866.8 L2494.0,891.0 L2512.4,914.2 L2530.9,932.7 L2549.3,947.0 L2567.7,949.2 L2586.1,948.3 L2604.6,954.7 L2623.0,973.0 L2641.4,999.0 L2659.8,1023.9 L2678.2,1044.9 L2696.7,1054.6 L2715.1,1065.3 L2733.5,1082.9 L2751.9,1103.3 L2770.3,1119.5 L2788.8,1135.7 L2807.2,1158.8 L2825.6,1183.7 L2844.0,1212.7 L2862.4,1250.1 L2880.9,1285.1 L2899.3,1307.0 L2917.7,1327.0 L2936.1,1343.5 L2954.6,1355.0 L2973.0,1370.8 L2991.4,1401.3 L3009.8,1425.5 L3028.2,1434.6 L3046.7,1434.6 L3065.1,1435.3 L3083.5,1436.6 M283.5,541.2 L301.9,533.4 L320.3,522.3 L338.8,519.7 L357.2,516.0 L375.6,513.2 L394.0,510.4 L412.4,507.9 L430.9,508.0 L449.3,508.3 L467.7,513.0 L486.1,516.2 L504.6,521.1 L523.0,519.4 L541.4,515.1 L559.8,509.1 L578.2,507.1 L596.7,502.4 L615.1,490.7 L633.5,481.7 L651.9,473.3 L670.3,470.0 L688.8,465.0 L707.2,453.1 L725.6,442.2 L744.0,429.6 L762.4,430.1 L780.9,426.6 L799.3,425.2 L817.7,426.0 L836.1,424.1 L854.6,423.8 L873.0,427.3 L891.4,428.7 L909.8,425.3 L928.2,421.1 L946.7,418.6 L965.1,413.7 L983.5,408.3 L1001.9,401.8 L1020.3,397.3 L1038.8,397.1 L1057.2,402.9 L1075.6,405.7 L1094.0,406.1 L1112.4,402.0 L1130.9,397.4 L1149.3,394.7 L1167.7,397.8 L1186.1,398.2 L1204.6,398.7 L1223.0,403.5 L1241.4,414.8 L1259.8,421.3 L1278.2,429.7 L1296.7,437.8 L1315.1,448.7 L1333.5,454.7 L1351.9,458.3 L1370.3,457.5 L1388.8,458.0 L1407.2,460.3 L1425.6,459.0 L1444.0,457.6 L1462.4,450.8 L1480.9,443.2 L1499.3,437.2 L1517.7,435.3 L1536.1,428.9 L1554.6,424.0 L1573.0,423.5 L1591.4,426.4 L1609.8,425.7 L1628.2,426.5 L1646.7,435.7 L1665.1,447.6 L1683.5,459.9 L1701.9,468.4 L1720.3,469.6 L1738.8,469.0 L1757.2,465.2 L1775.6,458.9 L1794.0,460.9 L1812.4,465.9 L1830.9,474.1 L1849.3,478.5 L1867.7,480.1 L1886.1,488.8 L1904.6,497.4 L1923.0,498.5 L1941.4,499.9 L1959.8,505.9 L1978.2,513.9 L1996.7,521.1 L2015.1,523.0 L2033.5,526.6 L2051.9,532.8 L2070.3,536.1 L2088.8,535.6 L2107.2,535.6 L2125.6,535.8 L2144.0,547.2 L2162.4,555.6 L2180.9,562.1 L2199.3,567.8 L2217.7,578.1 L2236.1,595.7 L2254.6,614.8 L2273.0,628.5 L2291.4,638.3 L2309.8,648.8 L2328.2,651.2 L2346.7,650.1 L2365.1,646.8 L2383.5,654.7 L2401.9,666.5 L2420.3,676.9 L2438.8,697.0 L2457.2,719.2 L2475.6,743.8 L2494.0,756.7 L2512.4,762.9 L2530.9,768.6 L2549.3,778.2 L2567.7,795.7 L2586.1,816.8 L2604.6,835.6 L2623.0,843.8 L2641.4,847.3 L2659.8,850.3 L2678.2,868.1 L2696.7,890.3 L2715.1,913.8 L2733.5,935.4 L2751.9,952.5 L2770.3,973.2 L2788.8,996.9 L2807.2,1012.8 L2825.6,1030.5 L2844.0,1056.5 L2862.4,1082.5 L2880.9,1105.2 L2899.3,1121.5 L2917.7,1136.5 L2936.1,1161.7 L2954.6,1190.3 L2973.0,1220.6 L2991.4,1245.9 L3009.8,1273.6 L3028.2,1292.3 L3046.7,1312.0 L3065.1,1324.9 L3083.5,1331.7 M283.5,597.6 L301.9,599.1 L320.3,606.1 L338.8,605.2 L357.2,603.6 L375.6,601.3 L394.0,597.3 L412.4,590.9 L430.9,585.3 L449.3,576.3 L467.7,568.6 L486.1,556.5 L504.6,550.1 L523.0,550.7 L541.4,551.7 L559.8,548.0 L578.2,536.3 L596.7,525.2 L615.1,510.9 L633.5,499.2 L651.9,494.0 L670.3,488.6 L688.8,480.2 L707.2,480.4 L725.6,482.9 L744.0,479.3 L762.4,478.8 L780.9,473.6 L799.3,466.2 L817.7,461.6 L836.1,461.8 L854.6,467.2 L873.0,470.7 L891.4,469.4 L909.8,466.7 L928.2,475.3 L946.7,483.9 L965.1,487.3 L983.5,484.9 L1001.9,483.6 L1020.3,483.1 L1038.8,474.8 L1057.2,466.0 L1075.6,465.3 L1094.0,468.1 L1112.4,471.3 L1130.9,469.9 L1149.3,470.6 L1167.7,470.2 L1186.1,469.8 L1204.6,462.6 L1223.0,456.5 L1241.4,452.3 L1259.8,454.6 L1278.2,456.8 L1296.7,462.7 L1315.1,460.9 L1333.5,460.6 L1351.9,463.1 L1370.3,463.4 L1388.8,462.3 L1407.2,458.5 L1425.6,452.7 L1444.0,445.4 L1462.4,443.5 L1480.9,440.0 L1499.3,433.5 L1517.7,430.4 L1536.1,434.6 L1554.6,440.4 L1573.0,445.2 L1591.4,449.7 L1609.8,458.1 L1628.2,469.1 L1646.7,476.7 L1665.1,475.9 L1683.5,478.7 L1701.9,482.5 L1720.3,491.5 L1738.8,506.9 L1757.2,523.9 L1775.6,535.6 L1794.0,540.7 L1812.4,539.0 L1830.9,537.3 L1849.3,541.6 L1867.7,549.6 L1886.1,553.7 L1904.6,553.7 L1923.0,550.9 L1941.4,559.8 L1959.8,575.2 L1978.2,590.1 L1996.7,600.8 L2015.1,612.3 L2033.5,623.3 L2051.9,637.6 L2070.3,645.8 L2088.8,650.0 L2107.2,650.8 L2125.6,658.9 L2144.0,664.1 L2162.4,672.0 L2180.9,678.4 L2199.3,689.3 L2217.7,704.8 L2236.1,721.6 L2254.6,741.4 L2273.0,761.4 L2291.4,777.4 L2309.8,792.0 L2328.2,799.4 L2346.7,802.3 L2365.1,808.8 L2383.5,817.6 L2401.9,828.5 L2420.3,842.8 L2438.8,859.6 L2457.2,880.4 L2475.6,909.9 L2494.0,935.5 L2512.4,960.9 L2530.9,977.5 L2549.3,993.4 L2567.7,1014.9 L2586.1,1040.4 L2604.6,1064.6 L2623.0,1086.0 L2641.4,1109.8 L2659.8,1131.7 L2678.2,1148.1 L2696.7,1163.9 L2715.1,1180.0 L2733.5,1192.3 L2751.9,1200.4 L2770.3,1199.3 L2788.8,1206.1 L2807.2,1223.5 L2825.6,1248.4 L2844.0,1281.2 L2862.4,1312.4 L2880.9,1327.9 L2899.3,1342.5 L2917.7,1363.3 L2936.1,1375.1 L2954.6,1377.2 L2973.0,1383.6 L2991.4,1394.5 L3009.8,1406.6 L3028.2,1431.4 L3046.7,1458.9 L3065.1,1478.7 M283.5,572.1 L301.9,567.7 L320.3,565.3 L338.8,563.2 L357.2,560.8 L375.6,556.6 L394.0,550.0 L412.4,543.3 L430.9,537.2 L449.3,528.3 L467.7,522.2 L486.1,516.3 L504.6,510.3 L523.0,501.7 L541.4,493.4 L559.8,487.5 L578.2,488.0 L596.7,495.3 L615.1,491.6 L633.5,486.7 L651.9,484.5 L670.3,488.9 L688.8,491.3 L707.2,495.8 L725.6,505.0 L744.0,512.0 L762.4,505.5 L780.9,503.5 L799.3,502.0 L817.7,494.4 L836.1,485.9 L854.6,481.0 L873.0,481.8 L891.4,481.2 L909.8,477.1 L928.2,469.4 L946.7,462.5 L965.1,457.5 L983.5,456.7 L1001.9,455.9 L1020.3,461.7 L1038.8,470.5 L1057.2,473.3 L1075.6,475.1 L1094.0,477.5 L1112.4,477.4 L1130.9,475.0 L1149.3,472.2 L1167.7,466.1 L1186.1,465.0 L1204.6,466.2 L1223.0,466.7 L1241.4,461.4 L1259.8,456.3 L1278.2,455.7 L1296.7,455.9 L1315.1,457.0 L1333.5,460.3 L1351.9,462.8 L1370.3,466.6 L1388.8,470.9 L1407.2,469.4 L1425.6,470.7 L1444.0,468.1 L1462.4,468.0 L1480.9,467.1 L1499.3,474.8 L1517.7,480.5 L1536.1,488.1 L1554.6,493.3 L1573.0,507.2 L1591.4,516.9 L1609.8,520.5 L1628.2,523.8 L1646.7,528.4 L1665.1,530.7 L1683.5,537.6 L1701.9,543.0 L1720.3,550.2 L1738.8,554.4 L1757.2,550.6 L1775.6,539.7 L1794.0,538.4 L1812.4,538.7 L1830.9,539.8 L1849.3,537.7 L1867.7,539.8 L1886.1,546.8 L1904.6,552.5 L1923.0,559.9 L1941.4,564.8 L1959.8,568.5 L1978.2,578.7 L1996.7,589.2 L2015.1,592.8 L2033.5,595.9 L2051.9,598.9 L2070.3,604.7 L2088.8,608.2 L2107.2,612.3 L2125.6,611.5 L2144.0,605.1 L2162.4,607.3 L2180.9,609.5 L2199.3,614.3 L2217.7,620.3 L2236.1,628.5 L2254.6,636.0 L2273.0,647.0 L2291.4,652.6 L2309.8,660.3 L2328.2,671.8 L2346.7,690.9 L2365.1,712.9 L2383.5,733.3 L2401.9,753.0 L2420.3,772.6 L2438.8,789.0 L2457.2,807.0 L2475.6,826.3 L2494.0,851.1 L2512.4,876.1 L2530.9,891.4 L2549.3,902.5 L2567.7,909.4 L2586.1,908.9 L2604.6,913.1 L2623.0,931.9 L2641.4,950.2 L2659.8,972.4 L2678.2,1005.5 L2696.7,1024.1 L2715.1,1040.6 L2733.5,1057.3 L2751.9,1076.3 L2770.3,1099.7 L2788.8,1122.8 L2807.2,1146.0 L2825.6,1162.7 L2844.0,1174.2 L2862.4,1185.8 L2880.9,1190.8 L2899.3,1200.6 L2917.7,1213.7 L2936.1,1238.2 L2954.6,1263.1 L2973.0,1287.4 L2991.4,1315.2 L3009.8,1340.8 L3028.2,1359.7 L3046.7,1370.7 L3065.1,1384.7 L3083.5,1393.9 M283.5,606.4 L301.9,602.8 L320.3,599.2 L338.8,597.0 L357.2,595.1 L375.6,591.7 L394.0,577.9 L412.4,559.3 L430.9,548.3 L449.3,549.4 L467.7,552.2 L486.1,555.0 L504.6,555.7 L523.0,551.2 L541.4,544.3 L559.8,536.6 L578.2,523.0 L596.7,519.5 L615.1,524.2 L633.5,525.3 L651.9,522.0 L670.3,519.0 L688.8,511.1 L707.2,504.5 L725.6,501.4 L744.0,498.0 L762.4,495.9 L780.9,491.7 L799.3,487.5 L817.7,484.9 L836.1,485.2 L854.6,488.6 L873.0,487.2 L891.4,488.2 L909.8,487.8 L928.2,480.2 L946.7,469.8 L965.1,460.2 L983.5,454.8 L1001.9,449.7 L1020.3,445.8 L1038.8,444.3 L1057.2,440.3 L1075.6,440.0 L1094.0,440.6 L1112.4,436.9 L1130.9,436.2 L1149.3,438.5 L1167.7,437.0 L1186.1,434.5 L1204.6,439.4 L1223.0,444.6 L1241.4,448.6 L1259.8,449.7 L1278.2,448.6 L1296.7,445.4 L1315.1,446.8 L1333.5,446.6 L1351.9,453.8 L1370.3,459.6 L1388.8,464.5 L1407.2,465.7 L1425.6,470.6 L1444.0,473.7 L1462.4,481.9 L1480.9,483.3 L1499.3,490.4 L1517.7,494.0 L1536.1,495.5 L1554.6,492.5 L1573.0,491.4 L1591.4,493.6 L1609.8,493.3 L1628.2,493.1 L1646.7,500.0 L1665.1,506.7 L1683.5,511.6 L1701.9,514.5 L1720.3,521.4 L1738.8,525.0 L1757.2,529.5 L1775.6,534.2 L1794.0,535.1 L1812.4,531.7 L1830.9,532.9 L1849.3,538.5 L1867.7,546.3 L1886.1,558.2 L1904.6,568.0 L1923.0,572.3 L1941.4,574.4 L1959.8,576.2 L1978.2,581.8 L1996.7,583.4 L2015.1,590.5 L2033.5,598.1 L2051.9,606.1 L2070.3,620.0 L2088.8,627.1 L2107.2,630.7 L2125.6,645.2 L2144.0,661.9 L2162.4,678.0 L2180.9,692.1 L2199.3,695.1 L2217.7,703.5 L2236.1,712.7 L2254.6,728.3 L2273.0,751.7 L2291.4,773.1 L2309.8,789.2 L2328.2,807.4 L2346.7,826.7 L2365.1,847.3 L2383.5,856.5 L2401.9,869.3 L2420.3,874.7 L2438.8,882.5 L2457.2,882.3 L2475.6,886.5 L2494.0,892.1 L2512.4,901.8 L2530.9,909.8 L2549.3,922.5 L2567.7,945.7 L2586.1,968.0 L2604.6,989.2 L2623.0,1004.9 L2641.4,1025.7 L2659.8,1051.9 L2678.2,1076.6 L2696.7,1088.9 L2715.1,1098.5 L2733.5,1108.3 L2751.9,1124.5 L2770.3,1140.5 L2788.8,1154.3 L2807.2,1164.2 L2825.6,1175.8 L2844.0,1190.4 L2862.4,1211.5 L2880.9,1238.1 L2899.3,1268.0 L2917.7,1302.7 L2936.1,1326.1 L2954.6,1338.1 L2973.0,1351.2 L2991.4,1370.4 L3009.8,1384.7 L3028.2,1407.6 L3046.7,1433.7 L3065.1,1459.1 L3083.5,1476.0 M283.5,631.9 L301.9,633.1 L320.3,633.8 L338.8,632.0 L357.2,628.2 L375.6,619.9 L394.0,619.7 L412.4,614.7 L430.9,612.7 L449.3,609.0 L467.7,608.4 L486.1,600.9 L504.6,597.5 L523.0,595.2 L541.4,594.8 L559.8,598.2 L578.2,598.2 L596.7,594.9 L615.1,595.7 L633.5,597.6 L651.9,593.7 L670.3,583.8 L688.8,573.1 L707.2,567.4 L725.6,565.5 L744.0,560.6 L762.4,552.6 L780.9,555.2 L799.3,556.7 L817.7,556.4 L836.1,552.4 L854.6,543.7 L873.0,535.3 L891.4,527.2 L909.8,523.8 L928.2,521.8 L946.7,523.5 L965.1,531.0 L983.5,536.4 L1001.9,536.2 L1020.3,534.1 L1038.8,529.5 L1057.2,526.7 L1075.6,523.2 L1094.0,524.5 L1112.4,524.3 L1130.9,522.0 L1149.3,519.7 L1167.7,519.9 L1186.1,520.9 L1204.6,519.5 L1223.0,517.1 L1241.4,519.6 L1259.8,524.5 L1278.2,525.9 L1296.7,531.5 L1315.1,524.1 L1333.5,515.2 L1351.9,506.3 L1370.3,504.5 L1388.8,499.4 L1407.2,489.6 L1425.6,484.3 L1444.0,481.7 L1462.4,485.4 L1480.9,485.5 L1499.3,483.4 L1517.7,484.7 L1536.1,492.3 L1554.6,497.4 L1573.0,498.8 L1591.4,496.8 L1609.8,495.6 L1628.2,498.2 L1646.7,499.8 L1665.1,500.1 L1683.5,498.7 L1701.9,496.0 L1720.3,494.4 L1738.8,494.7 L1757.2,497.7 L1775.6,504.9 L1794.0,503.1 L1812.4,494.8 L1830.9,489.3 L1849.3,489.6 L1867.7,497.1 L1886.1,509.9 L1904.6,525.4 L1923.0,530.9 L1941.4,530.1 L1959.8,527.9 L1978.2,532.1 L1996.7,536.3 L2015.1,541.1 L2033.5,550.6 L2051.9,564.4 L2070.3,581.4 L2088.8,600.8 L2107.2,626.6 L2125.6,651.8 L2144.0,665.8 L2162.4,676.5 L2180.9,689.6 L2199.3,700.2 L2217.7,704.0 L2236.1,709.9 L2254.6,719.8 L2273.0,729.1 L2291.4,737.2 L2309.8,745.0 L2328.2,747.5 L2346.7,761.7 L2365.1,780.4 L2383.5,803.0 L2401.9,819.1 L2420.3,826.9 L2438.8,829.4 L2457.2,831.9 L2475.6,841.1 L2494.0,855.3 L2512.4,870.5 L2530.9,878.8 L2549.3,885.5 L2567.7,907.9 L2586.1,934.0 L2604.6,955.1 L2623.0,977.2 L2641.4,995.1 L2659.8,1020.8 L2678.2,1042.9 L2696.7,1062.4 L2715.1,1077.6 L2733.5,1092.9 L2751.9,1116.0 L2770.3,1150.6 L2788.8,1180.7 L2807.2,1198.9 L2825.6,1212.1 L2844.0,1224.9 L2862.4,1244.9 L2880.9,1269.8 L2899.3,1297.7 L2917.7,1319.2 L2936.1,1333.9 L2954.6,1350.8 L2973.0,1366.2 L2991.4,1380.4 L3009.8,1391.0 L3028.2,1410.0 L3046.7,1438.5 L3065.1,1465.8 M283.5,596.9 L301.9,588.4 L320.3,587.5 L338.8,577.8 L357.2,566.8 L375.6,555.3 L394.0,548.2 L412.4,545.4 L430.9,539.3 L449.3,535.7 L467.7,526.6 L486.1,515.2 L504.6,502.4 L523.0,498.6 L541.4,500.6 L559.8,500.5 L578.2,507.2 L596.7,512.0 L615.1,512.2 L633.5,513.1 L651.9,513.7 L670.3,514.9 L688.8,510.2 L707.2,505.5 L725.6,501.0 L744.0,499.2 L762.4,501.5 L780.9,498.6 L799.3,496.1 L817.7,492.2 L836.1,489.2 L854.6,485.2 L873.0,485.4 L891.4,485.5 L909.8,482.9 L928.2,481.7 L946.7,482.4 L965.1,478.9 L983.5,473.3 L1001.9,472.5 L1020.3,469.2 L1038.8,468.0 L1057.2,464.9 L1075.6,464.8 L1094.0,468.7 L1112.4,469.4 L1130.9,468.5 L1149.3,461.9 L1167.7,459.0 L1186.1,451.0 L1204.6,447.0 L1223.0,450.1 L1241.4,453.6 L1259.8,457.4 L1278.2,457.2 L1296.7,458.4 L1315.1,453.7 L1333.5,450.8 L1351.9,441.1 L1370.3,432.7 L1388.8,423.5 L1407.2,421.3 L1425.6,417.3 L1444.0,419.9 L1462.4,417.1 L1480.9,415.6 L1499.3,416.7 L1517.7,419.2 L1536.1,424.6 L1554.6,434.7 L1573.0,445.9 L1591.4,455.1 L1609.8,458.9 L1628.2,458.0 L1646.7,455.6 L1665.1,460.0 L1683.5,461.6 L1701.9,459.7 L1720.3,463.7 L1738.8,464.3 L1757.2,465.4 L1775.6,462.9 L1794.0,456.7 L1812.4,455.4 L1830.9,450.7 L1849.3,452.0 L1867.7,455.7 L1886.1,466.3 L1904.6,473.8 L1923.0,481.6 L1941.4,488.3 L1959.8,500.5 L1978.2,508.8 L1996.7,513.5 L2015.1,524.7 L2033.5,534.0 L2051.9,544.6 L2070.3,555.0 L2088.8,567.8 L2107.2,585.0 L2125.6,598.8 L2144.0,604.4 L2162.4,609.3 L2180.9,614.4 L2199.3,620.7 L2217.7,623.6 L2236.1,631.8 L2254.6,641.0 L2273.0,663.1 L2291.4,685.8 L2309.8,705.5 L2328.2,721.5 L2346.7,739.1 L2365.1,753.2 L2383.5,765.1 L2401.9,778.4 L2420.3,791.4 L2438.8,803.1 L2457.2,815.4 L2475.6,830.9 L2494.0,852.2 L2512.4,867.8 L2530.9,880.8 L2549.3,886.3 L2567.7,895.0 L2586.1,899.5 L2604.6,902.5 L2623.0,912.9 L2641.4,927.7 L2659.8,946.9 L2678.2,977.7 L2696.7,1013.4 L2715.1,1040.7 L2733.5,1066.5 L2751.9,1088.5 L2770.3,1103.9 L2788.8,1119.3 L2807.2,1141.6 L2825.6,1178.0 L2844.0,1215.1 L2862.4,1247.9 L2880.9,1277.6 L2899.3,1299.4 L2917.7,1311.9 L2936.1,1323.5 L2954.6,1338.5 L2973.0,1350.4 L2991.4,1367.3 L3009.8,1386.7 L3028.2,1405.9 L3046.7,1430.6 L3065.1,1447.3 L3083.5,1466.2 M283.5,610.4 L301.9,614.2 L320.3,614.0 L338.8,603.8 L357.2,594.0 L375.6,587.9 L394.0,584.7 L412.4,588.5 L430.9,590.7 L449.3,593.5 L467.7,593.8 L486.1,588.6 L504.6,583.6 L523.0,575.5 L541.4,571.3 L559.8,568.6 L578.2,560.7 L596.7,548.5 L615.1,542.2 L633.5,542.8 L651.9,544.4 L670.3,542.8 L688.8,538.9 L707.2,535.8 L725.6,528.2 L744.0,524.1 L762.4,523.9 L780.9,520.1 L799.3,523.1 L817.7,522.5 L836.1,518.7 L854.6,515.2 L873.0,510.9 L891.4,509.0 L909.8,513.3 L928.2,520.4 L946.7,528.1 L965.1,530.0 L983.5,530.1 L1001.9,525.0 L1020.3,525.7 L1038.8,521.7 L1057.2,526.8 L1075.6,532.0 L1094.0,537.1 L1112.4,543.6 L1130.9,541.7 L1149.3,536.2 L1167.7,531.3 L1186.1,522.0 L1204.6,512.6 L1223.0,510.0 L1241.4,507.0 L1259.8,504.4 L1278.2,500.7 L1296.7,498.0 L1315.1,493.4 L1333.5,495.3 L1351.9,495.1 L1370.3,492.9 L1388.8,487.3 L1407.2,481.1 L1425.6,486.0 L1444.0,497.1 L1462.4,508.2 L1480.9,520.1 L1499.3,527.1 L1517.7,527.7 L1536.1,522.4 L1554.6,517.0 L1573.0,516.1 L1591.4,516.8 L1609.8,521.7 L1628.2,527.3 L1646.7,527.3 L1665.1,529.6 L1683.5,528.6 L1701.9,520.1 L1720.3,515.1 L1738.8,514.4 L1757.2,518.8 L1775.6,523.8 L1794.0,527.1 L1812.4,527.1 L1830.9,537.0 L1849.3,542.9 L1867.7,553.5 L1886.1,557.0 L1904.6,563.6 L1923.0,574.0 L1941.4,586.8 L1959.8,592.8 L1978.2,597.4 L1996.7,604.7 L2015.1,613.4 L2033.5,624.3 L2051.9,637.8 L2070.3,650.1 L2088.8,661.6 L2107.2,670.7 L2125.6,674.9 L2144.0,673.9 L2162.4,677.1 L2180.9,681.4 L2199.3,687.6 L2217.7,698.1 L2236.1,710.6 L2254.6,720.2 L2273.0,733.7 L2291.4,746.4 L2309.8,757.9 L2328.2,767.7 L2346.7,781.0 L2365.1,792.2 L2383.5,806.1 L2401.9,817.4 L2420.3,825.4 L2438.8,838.3 L2457.2,856.6 L2475.6,870.8 L2494.0,887.3 L2512.4,914.0 L2530.9,938.2 L2549.3,961.4 L2567.7,979.7 L2586.1,1006.3 L2604.6,1029.5 L2623.0,1053.8 L2641.4,1082.6 L2659.8,1112.6 L2678.2,1133.2 L2696.7,1146.7 L2715.1,1160.9 L2733.5,1184.0 L2751.9,1210.2 L2770.3,1241.2 L2788.8,1263.1 L2807.2,1286.4 L2825.6,1308.5 L2844.0,1332.9 L2862.4,1350.7 L2880.9,1363.7 L2899.3,1384.9 L2917.7,1404.6 L2936.1,1430.6 L2954.6,1455.3 L2973.0,1474.2 L2991.4,1484.7 L3009.8,1494.4 L3028.2,1510.8 L3046.7,1533.4 L3065.1,1551.0 L3083.5,1564.7 M283.5,592.7 L301.9,581.4 L320.3,571.1 L338.8,569.4 L357.2,564.3 L375.6,560.4 L394.0,551.5 L412.4,544.4 L430.9,541.4 L449.3,543.8 L467.7,546.1 L486.1,545.9 L504.6,534.2 L523.0,520.1 L541.4,507.0 L559.8,492.1 L578.2,478.5 L596.7,465.0 L615.1,457.4 L633.5,444.3 L651.9,437.9 L670.3,434.1 L688.8,432.7 L707.2,434.3 L725.6,433.2 L744.0,436.7 L762.4,436.4 L780.9,441.7 L799.3,450.9 L817.7,459.0 L836.1,461.5 L854.6,457.4 L873.0,453.5 L891.4,449.6 L909.8,445.7 L928.2,445.3 L946.7,438.0 L965.1,432.0 L983.5,424.1 L1001.9,418.6 L1020.3,417.2 L1038.8,419.9 L1057.2,423.8 L1075.6,423.3 L1094.0,419.0 L1112.4,422.3 L1130.9,422.6 L1149.3,421.7 L1167.7,424.0 L1186.1,429.8 L1204.6,435.6 L1223.0,437.7 L1241.4,438.4 L1259.8,438.0 L1278.2,434.1 L1296.7,433.5 L1315.1,432.1 L1333.5,428.0 L1351.9,427.0 L1370.3,420.9 L1388.8,419.9 L1407.2,423.1 L1425.6,429.7 L1444.0,437.1 L1462.4,446.0 L1480.9,457.2 L1499.3,468.1 L1517.7,474.9 L1536.1,473.1 L1554.6,469.4 L1573.0,467.8 L1591.4,464.4 L1609.8,464.4 L1628.2,466.4 L1646.7,465.9 L1665.1,467.4 L1683.5,466.3 L1701.9,467.5 L1720.3,471.7 L1738.8,483.7 L1757.2,492.7 L1775.6,503.0 L1794.0,513.1 L1812.4,520.9 L1830.9,525.5 L1849.3,536.8 L1867.7,541.2 L1886.1,543.3 L1904.6,537.3 L1923.0,536.0 L1941.4,535.6 L1959.8,538.9 L1978.2,546.5 L1996.7,559.2 L2015.1,579.2 L2033.5,599.1 L2051.9,611.4 L2070.3,616.3 L2088.8,623.7 L2107.2,634.4 L2125.6,651.1 L2144.0,670.8 L2162.4,686.3 L2180.9,693.9 L2199.3,702.8 L2217.7,704.3 L2236.1,704.6 L2254.6,709.2 L2273.0,722.9 L2291.4,739.4 L2309.8,755.7 L2328.2,767.7 L2346.7,774.8 L2365.1,780.8 L2383.5,791.5 L2401.9,807.0 L2420.3,826.2 L2438.8,843.8 L2457.2,857.2 L2475.6,860.6 L2494.0,862.7 L2512.4,871.3 L2530.9,884.7 L2549.3,891.3 L2567.7,898.8 L2586.1,911.6 L2604.6,927.9 L2623.0,949.6 L2641.4,972.1 L2659.8,988.7 L2678.2,1000.3 L2696.7,1012.3 L2715.1,1028.7 L2733.5,1046.2 L2751.9,1059.5 L2770.3,1069.6 L2788.8,1080.9 L2807.2,1102.2 L2825.6,1124.4 L2844.0,1141.2 L2862.4,1163.1 L2880.9,1191.3 L2899.3,1223.4 L2917.7,1253.5 L2936.1,1273.3 L2954.6,1290.9 L2973.0,1314.3 L2991.4,1339.8 L3009.8,1358.4 L3028.2,1370.7 L3046.7,1383.0 L3065.1,1393.9 L3083.5,1409.7 M283.5,638.3 L301.9,627.8 L320.3,617.8 L338.8,610.5 L357.2,600.1 L375.6,589.1 L394.0,583.2 L412.4,587.7 L430.9,597.0 L449.3,601.1 L467.7,603.4 L486.1,604.0 L504.6,607.2 L523.0,598.0 L541.4,594.6 L559.8,593.0 L578.2,587.5 L596.7,583.3 L615.1,578.0 L633.5,574.5 L651.9,570.4 L670.3,564.8 L688.8,559.3 L707.2,558.2 L725.6,557.0 L744.0,555.2 L762.4,556.4 L780.9,560.9 L799.3,563.1 L817.7,559.0 L836.1,549.7 L854.6,539.7 L873.0,537.6 L891.4,536.6 L909.8,537.3 L928.2,536.0 L946.7,540.0 L965.1,538.3 L983.5,534.4 L1001.9,531.8 L1020.3,525.6 L1038.8,523.0 L1057.2,517.4 L1075.6,509.8 L1094.0,499.9 L1112.4,489.4 L1130.9,482.3 L1149.3,482.2 L1167.7,478.4 L1186.1,477.0 L1204.6,476.2 L1223.0,476.1 L1241.4,475.8 L1259.8,480.6 L1278.2,487.6 L1296.7,486.8 L1315.1,486.7 L1333.5,484.2 L1351.9,483.2 L1370.3,483.3 L1388.8,488.0 L1407.2,495.2 L1425.6,501.4 L1444.0,503.2 L1462.4,495.9 L1480.9,486.9 L1499.3,478.6 L1517.7,470.7 L1536.1,471.0 L1554.6,469.8 L1573.0,469.6 L1591.4,478.4 L1609.8,483.3 L1628.2,488.0 L1646.7,491.1 L1665.1,496.5 L1683.5,506.7 L1701.9,521.2 L1720.3,528.8 L1738.8,533.6 L1757.2,538.3 L1775.6,551.9 L1794.0,566.3 L1812.4,577.7 L1830.9,587.4 L1849.3,599.3 L1867.7,606.9 L1886.1,610.6 L1904.6,604.6 L1923.0,601.3 L1941.4,605.2 L1959.8,608.0 L1978.2,613.4 L1996.7,626.2 L2015.1,641.6 L2033.5,656.1 L2051.9,664.0 L2070.3,672.5 L2088.8,674.5 L2107.2,679.8 L2125.6,697.7 L2144.0,719.0 L2162.4,732.0 L2180.9,742.0 L2199.3,752.7 L2217.7,762.0 L2236.1,768.8 L2254.6,775.4 L2273.0,778.1 L2291.4,785.5 L2309.8,794.6 L2328.2,800.4 L2346.7,809.7 L2365.1,820.2 L2383.5,834.1 L2401.9,848.7 L2420.3,864.9 L2438.8,874.7 L2457.2,877.0 L2475.6,882.7 L2494.0,895.7 L2512.4,902.9 L2530.9,918.0 L2549.3,941.3 L2567.7,963.9 L2586.1,984.6 L2604.6,998.3 L2623.0,1003.5 L2641.4,1008.4 L2659.8,1025.6 L2678.2,1047.3 L2696.7,1068.9 L2715.1,1089.9 L2733.5,1106.6 L2751.9,1122.1 L2770.3,1140.5 L2788.8,1159.5 L2807.2,1186.4 L2825.6,1219.9 L2844.0,1246.6 L2862.4,1268.6 L2880.9,1285.0 L2899.3,1304.0 L2917.7,1328.8 L2936.1,1348.5 L2954.6,1368.3 L2973.0,1385.8 L2991.4,1398.5 L3009.8,1409.4 L3028.2,1425.2 L3046.7,1446.4 L3065.1,1465.1 L3083.5,1481.9 M283.5,539.6 L301.9,539.0 L320.3,540.6 L338.8,536.5 L357.2,530.7 L375.6,526.1 L394.0,519.4 L412.4,515.3 L430.9,501.8 L449.3,489.3 L467.7,479.6 L486.1,476.8 L504.6,473.1 L523.0,463.7 L541.4,454.4 L559.8,444.2 L578.2,434.3 L596.7,431.9 L615.1,434.4 L633.5,437.8 L651.9,440.5 L670.3,443.9 L688.8,451.8 L707.2,456.8 L725.6,456.4 L744.0,453.8 L762.4,452.9 L780.9,448.8 L799.3,442.4 L817.7,433.4 L836.1,423.1 L854.6,421.2 L873.0,421.7 L891.4,424.2 L909.8,425.6 L928.2,425.5 L946.7,420.5 L965.1,415.2 L983.5,408.5 L1001.9,411.9 L1020.3,415.5 L1038.8,416.5 L1057.2,417.4 L1075.6,415.6 L1094.0,415.1 L1112.4,421.7 L1130.9,428.8 L1149.3,436.7 L1167.7,441.8 L1186.1,447.2 L1204.6,449.1 L1223.0,448.1 L1241.4,443.5 L1259.8,443.5 L1278.2,444.3 L1296.7,443.4 L1315.1,440.3 L1333.5,437.4 L1351.9,434.5 L1370.3,434.9 L1388.8,434.6 L1407.2,437.8 L1425.6,442.4 L1444.0,447.6 L1462.4,451.5 L1480.9,454.0 L1499.3,459.5 L1517.7,462.7 L1536.1,466.0 L1554.6,468.7 L1573.0,477.1 L1591.4,482.1 L1609.8,488.0 L1628.2,492.1 L1646.7,494.1 L1665.1,496.5 L1683.5,497.6 L1701.9,502.5 L1720.3,512.8 L1738.8,514.3 L1757.2,515.3 L1775.6,518.6 L1794.0,528.6 L1812.4,538.9 L1830.9,544.0 L1849.3,549.7 L1867.7,542.5 L1886.1,543.8 L1904.6,550.0 L1923.0,556.7 L1941.4,562.3 L1959.8,559.0 L1978.2,567.1 L1996.7,573.8 L2015.1,584.4 L2033.5,594.8 L2051.9,605.0 L2070.3,610.5 L2088.8,621.3 L2107.2,629.1 L2125.6,639.9 L2144.0,648.2 L2162.4,655.9 L2180.9,671.3 L2199.3,687.1 L2217.7,694.7 L2236.1,699.4 L2254.6,703.6 L2273.0,707.8 L2291.4,713.1 L2309.8,719.5 L2328.2,730.8 L2346.7,746.8 L2365.1,757.9 L2383.5,767.4 L2401.9,774.5 L2420.3,784.5 L2438.8,798.5 L2457.2,806.6 L2475.6,811.3 L2494.0,812.4 L2512.4,816.7 L2530.9,834.9 L2549.3,844.6 L2567.7,861.0 L2586.1,880.3 L2604.6,899.3 L2623.0,912.7 L2641.4,931.1 L2659.8,946.2 L2678.2,955.7 L2696.7,972.2 L2715.1,991.1 L2733.5,1010.8 L2751.9,1027.5 L2770.3,1044.6 L2788.8,1066.4 L2807.2,1093.4 L2825.6,1120.7 L2844.0,1146.9 L2862.4,1170.4 L2880.9,1195.0 L2899.3,1228.6 L2917.7,1265.2 L2936.1,1291.4 L2954.6,1308.4 L2973.0,1319.4 L2991.4,1336.2 L3009.8,1358.4 L3028.2,1389.0 L3046.7,1418.3 L3065.1,1446.4 L3083.5,1472.7 M283.5,612.0 L301.9,604.2 L320.3,606.4 L338.8,602.7 L357.2,601.2 L375.6,602.0 L394.0,600.1 L412.4,598.1 L430.9,599.2 L449.3,603.2 L467.7,605.2 L486.1,604.7 L504.6,601.4 L523.0,603.2 L541.4,605.1 L559.8,605.3 L578.2,595.0 L596.7,582.3 L615.1,570.8 L633.5,566.1 L651.9,564.9 L670.3,561.3 L688.8,554.2 L707.2,547.0 L725.6,540.3 L744.0,534.9 L762.4,532.5 L780.9,533.3 L799.3,534.9 L817.7,532.5 L836.1,527.7 L854.6,522.5 L873.0,522.5 L891.4,522.5 L909.8,520.3 L928.2,521.0 L946.7,519.4 L965.1,508.5 L983.5,502.2 L1001.9,501.4 L1020.3,503.8 L1038.8,503.7 L1057.2,503.4 L1075.6,500.4 L1094.0,495.5 L1112.4,491.8 L1130.9,486.6 L1149.3,486.1 L1167.7,483.8 L1186.1,487.9 L1204.6,497.6 L1223.0,507.9 L1241.4,508.6 L1259.8,504.0 L1278.2,499.3 L1296.7,501.2 L1315.1,498.8 L1333.5,495.1 L1351.9,489.5 L1370.3,492.9 L1388.8,505.9 L1407.2,510.9 L1425.6,510.5 L1444.0,500.5 L1462.4,497.4 L1480.9,497.8 L1499.3,502.7 L1517.7,501.5 L1536.1,498.5 L1554.6,489.3 L1573.0,482.3 L1591.4,484.6 L1609.8,486.1 L1628.2,490.9 L1646.7,497.1 L1665.1,495.9 L1683.5,493.4 L1701.9,498.2 L1720.3,501.4 L1738.8,507.0 L1757.2,511.6 L1775.6,514.3 L1794.0,521.0 L1812.4,532.3 L1830.9,532.9 L1849.3,530.2 L1867.7,532.6 L1886.1,546.4 L1904.6,557.5 L1923.0,562.5 L1941.4,568.5 L1959.8,576.0 L1978.2,579.4 L1996.7,585.2 L2015.1,586.9 L2033.5,588.6 L2051.9,588.8 L2070.3,589.5 L2088.8,592.0 L2107.2,599.9 L2125.6,612.9 L2144.0,621.9 L2162.4,632.9 L2180.9,644.3 L2199.3,654.2 L2217.7,663.2 L2236.1,668.3 L2254.6,669.9 L2273.0,675.9 L2291.4,687.6 L2309.8,701.4 L2328.2,720.3 L2346.7,737.3 L2365.1,756.4 L2383.5,779.5 L2401.9,796.3 L2420.3,813.1 L2438.8,824.0 L2457.2,840.1 L2475.6,853.0 L2494.0,869.6 L2512.4,884.9 L2530.9,904.8 L2549.3,928.8 L2567.7,955.2 L2586.1,970.1 L2604.6,985.7 L2623.0,995.0 L2641.4,1001.0 L2659.8,1012.7 L2678.2,1026.1 L2696.7,1046.9 L2715.1,1071.0 L2733.5,1086.9 L2751.9,1100.6 L2770.3,1115.1 L2788.8,1135.9 L2807.2,1159.7 L2825.6,1189.3 L2844.0,1215.5 L2862.4,1238.7 L2880.9,1261.9 L2899.3,1279.9 L2917.7,1298.3 L2936.1,1314.1 L2954.6,1320.8 L2973.0,1326.8 L2991.4,1341.1 L3009.8,1357.0 L3028.2,1370.0 L3046.7,1386.8 L3065.1,1410.7 L3083.5,1436.6 M283.5,585.2 L301.9,576.0 L320.3,565.1 L338.8,560.0 L357.2,558.9 L375.6,556.6 L394.0,546.2 L412.4,544.2 L430.9,539.3 L449.3,536.6 L467.7,534.6 L486.1,532.8 L504.6,527.6 L523.0,525.0 L541.4,520.4 L559.8,521.3 L578.2,519.5 L596.7,518.2 L615.1,520.1 L633.5,529.5 L651.9,535.3 L670.3,530.8 L688.8,531.9 L707.2,529.1 L725.6,527.5 L744.0,525.0 L762.4,523.1 L780.9,521.7 L799.3,524.3 L817.7,527.2 L836.1,527.7 L854.6,522.9 L873.0,518.7 L891.4,517.6 L909.8,522.9 L928.2,528.0 L946.7,534.1 L965.1,539.1 L983.5,535.7 L1001.9,528.9 L1020.3,526.9 L1038.8,524.7 L1057.2,524.1 L1075.6,522.0 L1094.0,524.2 L1112.4,524.6 L1130.9,529.4 L1149.3,532.0 L1167.7,526.4 L1186.1,515.0 L1204.6,508.9 L1223.0,503.2 L1241.4,504.7 L1259.8,508.6 L1278.2,513.7 L1296.7,514.7 L1315.1,511.4 L1333.5,504.8 L1351.9,499.9 L1370.3,492.6 L1388.8,489.4 L1407.2,489.5 L1425.6,490.1 L1444.0,493.6 L1462.4,500.0 L1480.9,506.4 L1499.3,512.0 L1517.7,513.5 L1536.1,510.4 L1554.6,513.7 L1573.0,520.9 L1591.4,524.8 L1609.8,525.3 L1628.2,523.6 L1646.7,528.0 L1665.1,530.1 L1683.5,538.9 L1701.9,542.3 L1720.3,546.4 L1738.8,550.4 L1757.2,549.8 L1775.6,545.0 L1794.0,534.5 L1812.4,528.6 L1830.9,530.8 L1849.3,532.0 L1867.7,530.3 L1886.1,535.7 L1904.6,538.2 L1923.0,542.5 L1941.4,548.4 L1959.8,550.4 L1978.2,561.5 L1996.7,570.2 L2015.1,584.1 L2033.5,593.9 L2051.9,612.8 L2070.3,628.6 L2088.8,646.3 L2107.2,658.4 L2125.6,671.2 L2144.0,682.5 L2162.4,694.6 L2180.9,707.0 L2199.3,718.6 L2217.7,735.8 L2236.1,758.6 L2254.6,777.4 L2273.0,797.2 L2291.4,807.2 L2309.8,815.0 L2328.2,816.5 L2346.7,812.4 L2365.1,814.8 L2383.5,824.1 L2401.9,835.2 L2420.3,840.4 L2438.8,841.0 L2457.2,849.8 L2475.6,864.8 L2494.0,884.1 L2512.4,899.5 L2530.9,917.3 L2549.3,943.9 L2567.7,973.2 L2586.1,996.5 L2604.6,1020.1 L2623.0,1038.7 L2641.4,1059.3 L2659.8,1080.5 L2678.2,1105.7 L2696.7,1130.7 L2715.1,1150.9 L2733.5,1174.2 L2751.9,1193.6 L2770.3,1204.1 L2788.8,1224.6 L2807.2,1253.6 L2825.6,1281.2 L2844.0,1303.4 L2862.4,1324.8 L2880.9,1348.9 L2899.3,1370.7 L2917.7,1396.9 L2936.1,1428.0 L2954.6,1458.5 L2973.0,1483.7 L2991.4,1498.8 L3009.8,1504.6 L3028.2,1503.7 L3046.7,1506.6 L3065.1,1521.0 L3083.5,1543.1 M283.5,596.3 L301.9,595.2 L320.3,589.1 L338.8,582.8 L357.2,582.5 L375.6,579.2 L394.0,577.4 L412.4,580.3 L430.9,581.7 L449.3,581.9 L467.7,580.7 L486.1,573.5 L504.6,571.4 L523.0,566.1 L541.4,560.4 L559.8,557.9 L578.2,555.8 L596.7,549.9 L615.1,543.7 L633.5,535.9 L651.9,528.8 L670.3,521.0 L688.8,518.2 L707.2,511.4 L725.6,504.6 L744.0,499.3 L762.4,500.8 L780.9,501.9 L799.3,501.2 L817.7,499.7 L836.1,500.3 L854.6,500.0 L873.0,496.7 L891.4,489.8 L909.8,489.1 L928.2,490.2 L946.7,492.1 L965.1,491.2 L983.5,491.7 L1001.9,495.9 L1020.3,496.8 L1038.8,491.9 L1057.2,490.3 L1075.6,492.5 L1094.0,496.6 L1112.4,498.2 L1130.9,496.3 L1149.3,490.1 L1167.7,482.1 L1186.1,472.4 L1204.6,466.4 L1223.0,457.2 L1241.4,449.6 L1259.8,444.7 L1278.2,443.5 L1296.7,449.7 L1315.1,465.3 L1333.5,477.7 L1351.9,482.5 L1370.3,485.0 L1388.8,488.9 L1407.2,485.3 L1425.6,479.1 L1444.0,478.5 L1462.4,476.8 L1480.9,481.9 L1499.3,488.4 L1517.7,489.9 L1536.1,493.5 L1554.6,495.9 L1573.0,497.5 L1591.4,494.1 L1609.8,490.2 L1628.2,494.0 L1646.7,500.6 L1665.1,507.0 L1683.5,517.0 L1701.9,523.7 L1720.3,528.5 L1738.8,528.8 L1757.2,533.9 L1775.6,538.3 L1794.0,543.3 L1812.4,546.5 L1830.9,543.4 L1849.3,535.6 L1867.7,535.9 L1886.1,539.6 L1904.6,552.4 L1923.0,564.1 L1941.4,570.6 L1959.8,575.0 L1978.2,576.0 L1996.7,583.2 L2015.1,592.1 L2033.5,606.0 L2051.9,609.2 L2070.3,610.4 L2088.8,612.0 L2107.2,617.2 L2125.6,625.2 L2144.0,630.2 L2162.4,643.7 L2180.9,654.6 L2199.3,666.2 L2217.7,680.6 L2236.1,699.5 L2254.6,716.0 L2273.0,733.7 L2291.4,745.0 L2309.8,746.2 L2328.2,750.3 L2346.7,757.2 L2365.1,764.0 L2383.5,777.9 L2401.9,798.2 L2420.3,815.6 L2438.8,825.2 L2457.2,835.4 L2475.6,844.5 L2494.0,853.9 L2512.4,867.7 L2530.9,881.2 L2549.3,898.6 L2567.7,912.5 L2586.1,928.4 L2604.6,949.1 L2623.0,970.8 L2641.4,989.0 L2659.8,1010.3 L2678.2,1031.2 L2696.7,1047.8 L2715.1,1066.5 L2733.5,1097.3 L2751.9,1129.0 L2770.3,1154.8 L2788.8,1175.3 L2807.2,1183.6 L2825.6,1191.9 L2844.0,1193.5 L2862.4,1196.3 L2880.9,1222.0 L2899.3,1249.7 L2917.7,1267.5 L2936.1,1276.0 L2954.6,1285.6 L2973.0,1300.1 L2991.4,1319.5 L3009.8,1336.0 L3028.2,1352.2 L3046.7,1369.6 L3065.1,1381.3 L3083.5,1388.1 M283.5,565.2 L301.9,560.8 L320.3,552.9 L338.8,546.8 L357.2,544.0 L375.6,544.4 L394.0,547.4 L412.4,550.2 L430.9,553.9 L449.3,557.6 L467.7,554.9 L486.1,550.9 L504.6,540.3 L523.0,525.3 L541.4,516.1 L559.8,514.4 L578.2,510.5 L596.7,509.1 L615.1,504.3 L633.5,505.4 L651.9,501.6 L670.3,493.1 L688.8,495.0 L707.2,500.9 L725.6,507.8 L744.0,508.9 L762.4,506.5 L780.9,501.2 L799.3,490.4 L817.7,479.9 L836.1,475.1 L854.6,470.6 L873.0,462.3 L891.4,456.5 L909.8,454.9 L928.2,458.7 L946.7,457.0 L965.1,454.4 L983.5,455.1 L1001.9,458.6 L1020.3,465.4 L1038.8,468.1 L1057.2,466.8 L1075.6,464.5 L1094.0,464.2 L1112.4,468.7 L1130.9,473.3 L1149.3,474.2 L1167.7,468.5 L1186.1,461.4 L1204.6,463.0 L1223.0,465.3 L1241.4,461.8 L1259.8,461.5 L1278.2,464.9 L1296.7,464.2 L1315.1,464.4 L1333.5,461.4 L1351.9,452.3 L1370.3,442.8 L1388.8,432.8 L1407.2,430.0 L1425.6,430.5 L1444.0,434.6 L1462.4,435.4 L1480.9,433.7 L1499.3,435.0 L1517.7,441.5 L1536.1,445.7 L1554.6,447.4 L1573.0,449.6 L1591.4,440.8 L1609.8,439.8 L1628.2,439.6 L1646.7,447.2 L1665.1,461.7 L1683.5,472.8 L1701.9,477.1 L1720.3,481.8 L1738.8,483.1 L1757.2,482.5 L1775.6,483.0 L1794.0,481.2 L1812.4,487.3 L1830.9,496.1 L1849.3,504.6 L1867.7,507.6 L1886.1,511.0 L1904.6,516.8 L1923.0,525.3 L1941.4,530.1 L1959.8,530.2 L1978.2,537.4 L1996.7,549.9 L2015.1,556.1 L2033.5,557.0 L2051.9,559.7 L2070.3,560.9 L2088.8,563.8 L2107.2,574.8 L2125.6,589.8 L2144.0,608.8 L2162.4,620.7 L2180.9,629.7 L2199.3,635.1 L2217.7,647.0 L2236.1,659.6 L2254.6,671.8 L2273.0,682.8 L2291.4,700.5 L2309.8,717.0 L2328.2,734.4 L2346.7,746.2 L2365.1,754.3 L2383.5,758.7 L2401.9,771.2 L2420.3,787.8 L2438.8,802.6 L2457.2,814.9 L2475.6,825.3 L2494.0,835.8 L2512.4,842.4 L2530.9,852.5 L2549.3,870.1 L2567.7,891.0 L2586.1,915.7 L2604.6,939.1 L2623.0,969.6 L2641.4,1008.8 L2659.8,1045.6 L2678.2,1077.3 L2696.7,1113.8 L2715.1,1144.9 L2733.5,1172.1 L2751.9,1194.9 L2770.3,1224.6 L2788.8,1252.7 L2807.2,1277.7 L2825.6,1298.4 L2844.0,1317.0 L2862.4,1336.4 L2880.9,1355.1 L2899.3,1373.0 L2917.7,1382.6 L2936.1,1385.7 L2954.6,1386.3 L2973.0,1391.2 L2991.4,1404.0 L3009.8,1425.9 L3028.2,1454.3 L3046.7,1469.7 L3065.1,1484.0 L3083.5,1497.9 M283.5,561.2 L301.9,554.2 L320.3,548.7 L338.8,545.5 L357.2,537.2 L375.6,526.5 L394.0,522.1 L412.4,522.3 L430.9,528.3 L449.3,527.5 L467.7,518.2 L486.1,507.2 L504.6,500.2 L523.0,498.9 L541.4,502.3 L559.8,505.2 L578.2,507.3 L596.7,512.2 L615.1,515.2 L633.5,515.2 L651.9,511.0 L670.3,505.4 L688.8,501.7 L707.2,497.3 L725.6,494.8 L744.0,491.2 L762.4,487.5 L780.9,483.7 L799.3,486.9 L817.7,495.8 L836.1,504.0 L854.6,507.1 L873.0,499.6 L891.4,495.3 L909.8,491.4 L928.2,491.1 L946.7,492.6 L965.1,486.5 L983.5,479.9 L1001.9,477.9 L1020.3,472.3 L1038.8,472.0 L1057.2,476.1 L1075.6,474.5 L1094.0,469.2 L1112.4,469.0 L1130.9,473.6 L1149.3,467.9 L1167.7,466.2 L1186.1,458.5 L1204.6,456.1 L1223.0,463.1 L1241.4,464.5 L1259.8,463.0 L1278.2,465.5 L1296.7,469.5 L1315.1,470.2 L1333.5,475.7 L1351.9,470.3 L1370.3,458.4 L1388.8,448.4 L1407.2,439.7 L1425.6,436.3 L1444.0,435.4 L1462.4,438.2 L1480.9,450.5 L1499.3,468.0 L1517.7,484.8 L1536.1,492.1 L1554.6,493.9 L1573.0,493.6 L1591.4,493.7 L1609.8,505.0 L1628.2,520.3 L1646.7,533.2 L1665.1,539.2 L1683.5,539.2 L1701.9,535.6 L1720.3,538.0 L1738.8,540.2 L1757.2,538.6 L1775.6,541.9 L1794.0,545.9 L1812.4,546.7 L1830.9,543.4 L1849.3,540.8 L1867.7,540.9 L1886.1,542.1 L1904.6,546.1 L1923.0,550.5 L1941.4,555.9 L1959.8,560.7 L1978.2,564.4 L1996.7,561.1 L2015.1,566.8 L2033.5,574.5 L2051.9,580.4 L2070.3,592.1 L2088.8,602.5 L2107.2,613.0 L2125.6,619.4 L2144.0,618.5 L2162.4,618.5 L2180.9,622.8 L2199.3,634.0 L2217.7,642.0 L2236.1,644.0 L2254.6,654.1 L2273.0,666.5 L2291.4,684.4 L2309.8,700.2 L2328.2,714.2 L2346.7,728.7 L2365.1,741.4 L2383.5,754.5 L2401.9,767.4 L2420.3,787.0 L2438.8,803.3 L2457.2,817.9 L2475.6,828.4 L2494.0,841.6 L2512.4,858.1 L2530.9,876.9 L2549.3,890.9 L2567.7,902.8 L2586.1,914.2 L2604.6,931.4 L2623.0,950.5 L2641.4,969.7 L2659.8,1000.3 L2678.2,1031.7 L2696.7,1048.5 L2715.1,1059.5 L2733.5,1072.5 L2751.9,1095.4 L2770.3,1123.9 L2788.8,1157.3 L2807.2,1188.0 L2825.6,1216.9 L2844.0,1240.9 L2862.4,1259.5 L2880.9,1276.4 L2899.3,1290.0 L2917.7,1299.3 L2936.1,1309.5 L2954.6,1328.9 L2973.0,1353.2 L2991.4,1372.3 L3009.8,1387.5 L3028.2,1406.6 L3046.7,1433.1 L3065.1,1462.0 M283.5,580.1 L301.9,567.1 L320.3,553.6 L338.8,547.7 L357.2,546.0 L375.6,548.6 L394.0,557.2 L412.4,562.9 L430.9,568.1 L449.3,565.6 L467.7,558.3 L486.1,550.0 L504.6,538.6 L523.0,532.3 L541.4,529.0 L559.8,528.1 L578.2,526.7 L596.7,527.4 L615.1,531.9 L633.5,531.9 L651.9,524.0 L670.3,516.1 L688.8,512.8 L707.2,504.3 L725.6,498.9 L744.0,500.6 L762.4,507.2 L780.9,512.9 L799.3,508.5 L817.7,506.9 L836.1,500.5 L854.6,494.4 L873.0,493.0 L891.4,490.0 L909.8,485.8 L928.2,484.6 L946.7,487.3 L965.1,493.1 L983.5,490.7 L1001.9,492.8 L1020.3,482.6 L1038.8,470.0 L1057.2,464.4 L1075.6,465.5 L1094.0,464.9 L1112.4,466.2 L1130.9,469.3 L1149.3,465.6 L1167.7,457.0 L1186.1,453.6 L1204.6,446.7 L1223.0,444.4 L1241.4,447.6 L1259.8,454.6 L1278.2,455.7 L1296.7,458.0 L1315.1,463.2 L1333.5,468.6 L1351.9,466.3 L1370.3,460.8 L1388.8,453.1 L1407.2,458.2 L1425.6,466.4 L1444.0,467.9 L1462.4,467.7 L1480.9,473.7 L1499.3,480.3 L1517.7,483.7 L1536.1,484.6 L1554.6,491.2 L1573.0,498.5 L1591.4,502.0 L1609.8,501.8 L1628.2,499.4 L1646.7,492.4 L1665.1,495.0 L1683.5,495.2 L1701.9,498.2 L1720.3,507.3 L1738.8,512.9 L1757.2,511.4 L1775.6,506.5 L1794.0,506.0 L1812.4,512.2 L1830.9,522.6 L1849.3,530.0 L1867.7,533.2 L1886.1,531.8 L1904.6,531.0 L1923.0,541.1 L1941.4,555.7 L1959.8,569.6 L1978.2,580.0 L1996.7,588.4 L2015.1,602.0 L2033.5,618.5 L2051.9,630.6 L2070.3,640.1 L2088.8,645.5 L2107.2,649.6 L2125.6,654.4 L2144.0,668.6 L2162.4,684.3 L2180.9,698.4 L2199.3,707.1 L2217.7,717.4 L2236.1,730.0 L2254.6,743.3 L2273.0,754.9 L2291.4,771.9 L2309.8,791.4 L2328.2,815.7 L2346.7,832.2 L2365.1,847.6 L2383.5,858.3 L2401.9,869.3 L2420.3,877.8 L2438.8,888.0 L2457.2,899.6 L2475.6,915.8 L2494.0,930.8 L2512.4,947.6 L2530.9,962.0 L2549.3,975.4 L2567.7,988.8 L2586.1,1004.0 L2604.6,1017.5 L2623.0,1037.0 L2641.4,1066.2 L2659.8,1093.4 L2678.2,1114.9 L2696.7,1130.1 L2715.1,1146.7 L2733.5,1163.1 L2751.9,1179.7 L2770.3,1196.7 L2788.8,1215.7 L2807.2,1227.3 L2825.6,1228.4 L2844.0,1228.4 L2862.4,1240.1 L2880.9,1255.3 L2899.3,1278.8 L2917.7,1300.7 L2936.1,1305.4 L2954.6,1315.1 L2973.0,1331.4 L2991.4,1353.4 L3009.8,1381.1 L3028.2,1397.8 L3046.7,1408.0 L3065.1,1424.7 L3083.5,1438.1 M283.5,583.7 L301.9,577.1 L320.3,576.4 L338.8,569.5 L357.2,560.4 L375.6,553.9 L394.0,537.3 L412.4,526.0 L430.9,516.3 L449.3,513.2 L467.7,505.9 L486.1,497.5 L504.6,488.6 L523.0,474.5 L541.4,472.0 L559.8,471.0 L578.2,474.1 L596.7,477.6 L615.1,479.0 L633.5,484.8 L651.9,494.2 L670.3,496.6 L688.8,491.2 L707.2,484.8 L725.6,473.1 L744.0,461.1 L762.4,458.5 L780.9,464.8 L799.3,469.7 L817.7,474.0 L836.1,481.7 L854.6,486.3 L873.0,483.2 L891.4,481.7 L909.8,481.0 L928.2,479.5 L946.7,469.4 L965.1,464.6 L983.5,462.7 L1001.9,457.5 L1020.3,455.6 L1038.8,448.9 L1057.2,435.9 L1075.6,421.7 L1094.0,420.2 L1112.4,420.4 L1130.9,420.6 L1149.3,424.0 L1167.7,431.1 L1186.1,436.2 L1204.6,443.1 L1223.0,447.0 L1241.4,447.6 L1259.8,438.1 L1278.2,429.0 L1296.7,430.8 L1315.1,434.4 L1333.5,438.4 L1351.9,440.5 L1370.3,438.4 L1388.8,430.5 L1407.2,422.1 L1425.6,419.8 L1444.0,421.7 L1462.4,423.3 L1480.9,429.3 L1499.3,433.4 L1517.7,434.5 L1536.1,436.8 L1554.6,440.1 L1573.0,439.3 L1591.4,434.3 L1609.8,430.2 L1628.2,432.5 L1646.7,440.2 L1665.1,448.9 L1683.5,454.7 L1701.9,460.5 L1720.3,460.9 L1738.8,460.7 L1757.2,466.8 L1775.6,477.8 L1794.0,482.3 L1812.4,479.4 L1830.9,475.5 L1849.3,479.7 L1867.7,490.1 L1886.1,495.4 L1904.6,502.8 L1923.0,505.4 L1941.4,502.5 L1959.8,505.1 L1978.2,518.6 L1996.7,532.3 L2015.1,547.5 L2033.5,554.7 L2051.9,561.9 L2070.3,574.7 L2088.8,586.6 L2107.2,590.8 L2125.6,591.8 L2144.0,596.3 L2162.4,614.0 L2180.9,631.1 L2199.3,637.1 L2217.7,638.1 L2236.1,647.1 L2254.6,664.9 L2273.0,685.2 L2291.4,699.5 L2309.8,711.7 L2328.2,725.0 L2346.7,731.4 L2365.1,739.9 L2383.5,746.5 L2401.9,754.2 L2420.3,760.9 L2438.8,772.4 L2457.2,786.1 L2475.6,803.4 L2494.0,817.0 L2512.4,836.2 L2530.9,857.5 L2549.3,882.4 L2567.7,906.5 L2586.1,926.4 L2604.6,940.2 L2623.0,958.1 L2641.4,978.7 L2659.8,1001.6 L2678.2,1023.8 L2696.7,1034.3 L2715.1,1038.4 L2733.5,1047.7 L2751.9,1065.4 L2770.3,1094.5 L2788.8,1129.6 L2807.2,1162.0 L2825.6,1186.9 L2844.0,1215.1 L2862.4,1241.2 L2880.9,1257.9 L2899.3,1262.6 L2917.7,1279.3 L2936.1,1307.0 L2954.6,1343.8 L2973.0,1371.4 L2991.4,1384.7 L3009.8,1401.7 L3028.2,1419.0 L3046.7,1437.5 L3065.1,1450.5 L3083.5,1470.2 M283.5,578.9 L301.9,570.6 L320.3,561.3 L338.8,553.9 L357.2,544.7 L375.6,537.9 L394.0,532.0 L412.4,529.3 L430.9,525.9 L449.3,521.4 L467.7,521.0 L486.1,513.6 L504.6,509.3 L523.0,497.9 L541.4,484.3 L559.8,476.2 L578.2,466.9 L596.7,455.2 L615.1,448.6 L633.5,452.2 L651.9,451.7 L670.3,451.1 L688.8,449.3 L707.2,443.1 L725.6,439.1 L744.0,437.7 L762.4,439.5 L780.9,440.1 L799.3,435.0 L817.7,431.1 L836.1,427.0 L854.6,422.9 L873.0,426.7 L891.4,432.3 L909.8,431.9 L928.2,436.5 L946.7,440.1 L965.1,438.6 L983.5,436.4 L1001.9,431.0 L1020.3,427.8 L1038.8,428.4 L1057.2,428.7 L1075.6,426.5 L1094.0,430.7 L1112.4,428.2 L1130.9,425.1 L1149.3,424.2 L1167.7,422.5 L1186.1,424.2 L1204.6,428.8 L1223.0,434.0 L1241.4,429.1 L1259.8,429.3 L1278.2,432.7 L1296.7,435.5 L1315.1,437.0 L1333.5,440.8 L1351.9,440.1 L1370.3,436.5 L1388.8,422.8 L1407.2,414.1 L1425.6,409.9 L1444.0,412.0 L1462.4,418.6 L1480.9,422.9 L1499.3,424.5 L1517.7,423.3 L1536.1,428.9 L1554.6,428.6 L1573.0,422.9 L1591.4,422.2 L1609.8,421.0 L1628.2,420.7 L1646.7,418.1 L1665.1,418.8 L1683.5,424.3 L1701.9,434.3 L1720.3,441.1 L1738.8,451.9 L1757.2,455.1 L1775.6,456.3 L1794.0,466.2 L1812.4,473.6 L1830.9,478.2 L1849.3,485.7 L1867.7,494.6 L1886.1,501.1 L1904.6,507.7 L1923.0,513.3 L1941.4,519.5 L1959.8,529.3 L1978.2,546.0 L1996.7,558.3 L2015.1,567.4 L2033.5,574.4 L2051.9,586.7 L2070.3,590.3 L2088.8,595.2 L2107.2,600.6 L2125.6,611.7 L2144.0,620.6 L2162.4,632.3 L2180.9,637.3 L2199.3,641.1 L2217.7,648.9 L2236.1,656.7 L2254.6,670.2 L2273.0,690.6 L2291.4,712.9 L2309.8,730.3 L2328.2,742.3 L2346.7,754.5 L2365.1,775.6 L2383.5,801.4 L2401.9,817.8 L2420.3,827.0 L2438.8,841.2 L2457.2,860.8 L2475.6,881.7 L2494.0,899.0 L2512.4,911.7 L2530.9,919.5 L2549.3,926.2 L2567.7,933.7 L2586.1,947.1 L2604.6,962.0 L2623.0,975.3 L2641.4,990.2 L2659.8,1012.9 L2678.2,1039.6 L2696.7,1050.1 L2715.1,1069.3 L2733.5,1101.1 L2751.9,1134.5 L2770.3,1159.1 L2788.8,1175.1 L2807.2,1180.5 L2825.6,1190.6 L2844.0,1213.0 L2862.4,1244.0 L2880.9,1279.4 L2899.3,1314.4 L2917.7,1345.1 L2936.1,1370.5 L2954.6,1385.8 L2973.0,1399.6 L2991.4,1415.3 L3009.8,1429.4 L3028.2,1449.4 L3046.7,1466.3 L3065.1,1480.3 L3083.5,1495.3 M283.5,637.1 L301.9,636.0 L320.3,630.5 L338.8,626.9 L357.2,621.1 L375.6,609.3 L394.0,603.8 L412.4,605.0 L430.9,600.0 L449.3,597.9 L467.7,589.9 L486.1,581.9 L504.6,573.4 L523.0,572.4 L541.4,569.4 L559.8,568.6 L578.2,562.6 L596.7,556.4 L615.1,546.8 L633.5,541.4 L651.9,536.8 L670.3,533.7 L688.8,533.7 L707.2,528.8 L725.6,521.9 L744.0,511.5 L762.4,500.3 L780.9,496.7 L799.3,488.9 L817.7,486.4 L836.1,489.8 L854.6,491.6 L873.0,494.9 L891.4,495.4 L909.8,495.1 L928.2,488.9 L946.7,487.0 L965.1,484.0 L983.5,477.7 L1001.9,472.7 L1020.3,473.3 L1038.8,468.4 L1057.2,464.9 L1075.6,459.2 L1094.0,453.7 L1112.4,451.0 L1130.9,445.2 L1149.3,443.6 L1167.7,445.3 L1186.1,448.6 L1204.6,447.7 L1223.0,443.3 L1241.4,429.2 L1259.8,422.6 L1278.2,418.0 L1296.7,420.5 L1315.1,423.2 L1333.5,427.2 L1351.9,430.9 L1370.3,434.4 L1388.8,432.8 L1407.2,426.9 L1425.6,425.6 L1444.0,428.3 L1462.4,428.0 L1480.9,426.0 L1499.3,429.6 L1517.7,443.4 L1536.1,455.1 L1554.6,462.6 L1573.0,476.3 L1591.4,486.2 L1609.8,488.1 L1628.2,487.9 L1646.7,486.8 L1665.1,489.7 L1683.5,492.0 L1701.9,496.9 L1720.3,505.7 L1738.8,517.0 L1757.2,521.7 L1775.6,532.2 L1794.0,545.4 L1812.4,556.4 L1830.9,570.5 L1849.3,575.1 L1867.7,578.1 L1886.1,582.2 L1904.6,584.1 L1923.0,589.7 L1941.4,600.8 L1959.8,612.6 L1978.2,627.9 L1996.7,635.6 L2015.1,640.6 L2033.5,638.6 L2051.9,633.3 L2070.3,634.7 L2088.8,647.1 L2107.2,662.3 L2125.6,674.3 L2144.0,686.1 L2162.4,689.8 L2180.9,692.2 L2199.3,698.5 L2217.7,711.0 L2236.1,722.3 L2254.6,738.2 L2273.0,768.2 L2291.4,794.5 L2309.8,816.2 L2328.2,831.8 L2346.7,849.1 L2365.1,866.0 L2383.5,882.1 L2401.9,894.0 L2420.3,904.9 L2438.8,918.9 L2457.2,936.0 L2475.6,947.4 L2494.0,951.3 L2512.4,951.2 L2530.9,961.5 L2549.3,980.1 L2567.7,1002.0 L2586.1,1022.9 L2604.6,1032.0 L2623.0,1050.1 L2641.4,1072.1 L2659.8,1098.3 L2678.2,1121.4 L2696.7,1136.4 L2715.1,1147.3 L2733.5,1160.9 L2751.9,1179.3 L2770.3,1200.1 L2788.8,1223.5 L2807.2,1240.5 L2825.6,1254.4 L2844.0,1275.5 L2862.4,1296.2 L2880.9,1298.1 L2899.3,1299.4 L2917.7,1315.7 L2936.1,1335.3 L2954.6,1345.0 L2973.0,1356.0 L2991.4,1373.2 L3009.8,1388.2 L3028.2,1399.1 L3046.7,1415.0 L3065.1,1439.3 L3083.5,1463.1 M283.5,521.1 L301.9,521.9 L320.3,524.9 L338.8,528.8 L357.2,527.1 L375.6,524.7 L394.0,524.6 L412.4,521.3 L430.9,515.9 L449.3,513.3 L467.7,513.1 L486.1,512.3 L504.6,516.4 L523.0,518.4 L541.4,517.1 L559.8,511.6 L578.2,507.6 L596.7,506.0 L615.1,498.4 L633.5,494.6 L651.9,488.4 L670.3,484.0 L688.8,484.9 L707.2,488.2 L725.6,482.2 L744.0,471.6 L762.4,459.8 L780.9,456.2 L799.3,452.6 L817.7,452.8 L836.1,455.1 L854.6,456.6 L873.0,455.8 L891.4,447.1 L909.8,443.4 L928.2,441.2 L946.7,435.3 L965.1,427.6 L983.5,422.0 L1001.9,420.9 L1020.3,422.6 L1038.8,421.8 L1057.2,419.6 L1075.6,413.0 L1094.0,406.9 L1112.4,400.5 L1130.9,397.1 L1149.3,399.8 L1167.7,404.8 L1186.1,411.4 L1204.6,415.0 L1223.0,419.1 L1241.4,422.7 L1259.8,423.5 L1278.2,422.3 L1296.7,423.2 L1315.1,423.8 L1333.5,422.1 L1351.9,425.6 L1370.3,426.8 L1388.8,425.3 L1407.2,428.6 L1425.6,420.0 L1444.0,411.8 L1462.4,407.7 L1480.9,410.4 L1499.3,414.9 L1517.7,422.1 L1536.1,427.3 L1554.6,432.3 L1573.0,439.0 L1591.4,447.6 L1609.8,449.8 L1628.2,455.2 L1646.7,456.6 L1665.1,463.4 L1683.5,466.6 L1701.9,463.5 L1720.3,457.8 L1738.8,455.4 L1757.2,452.9 L1775.6,457.5 L1794.0,461.4 L1812.4,468.8 L1830.9,475.8 L1849.3,480.8 L1867.7,480.7 L1886.1,483.5 L1904.6,487.0 L1923.0,500.1 L1941.4,514.0 L1959.8,525.9 L1978.2,541.3 L1996.7,551.6 L2015.1,555.2 L2033.5,548.8 L2051.9,546.8 L2070.3,552.7 L2088.8,560.6 L2107.2,573.0 L2125.6,578.0 L2144.0,587.9 L2162.4,599.3 L2180.9,613.1 L2199.3,627.3 L2217.7,642.0 L2236.1,649.1 L2254.6,660.1 L2273.0,666.1 L2291.4,676.4 L2309.8,684.2 L2328.2,690.1 L2346.7,694.2 L2365.1,700.7 L2383.5,711.4 L2401.9,725.5 L2420.3,736.1 L2438.8,752.8 L2457.2,767.6 L2475.6,787.3 L2494.0,804.3 L2512.4,818.3 L2530.9,828.9 L2549.3,840.3 L2567.7,859.7 L2586.1,884.8 L2604.6,910.2 L2623.0,930.3 L2641.4,946.6 L2659.8,964.3 L2678.2,980.8 L2696.7,993.6 L2715.1,1010.2 L2733.5,1024.8 L2751.9,1040.6 L2770.3,1054.5 L2788.8,1077.2 L2807.2,1102.8 L2825.6,1131.8 L2844.0,1159.6 L2862.4,1185.9 L2880.9,1213.4 L2899.3,1237.8 L2917.7,1254.4 L2936.1,1259.7 L2954.6,1269.3 L2973.0,1281.6 L2991.4,1298.3 L3009.8,1322.1 L3028.2,1350.0 L3046.7,1377.3 L3065.1,1386.9 L3083.5,1388.1 M283.5,578.0 L301.9,572.3 L320.3,565.9 L338.8,557.9 L357.2,552.0 L375.6,548.8 L394.0,548.8 L412.4,539.1 L430.9,527.3 L449.3,520.8 L467.7,520.0 L486.1,520.0 L504.6,514.3 L523.0,510.2 L541.4,510.2 L559.8,510.8 L578.2,499.4 L596.7,491.0 L615.1,483.8 L633.5,482.1 L651.9,481.9 L670.3,486.2 L688.8,488.1 L707.2,489.6 L725.6,491.7 L744.0,488.8 L762.4,481.9 L780.9,474.6 L799.3,469.5 L817.7,466.0 L836.1,471.0 L854.6,476.9 L873.0,483.1 L891.4,485.3 L909.8,485.5 L928.2,485.0 L946.7,484.7 L965.1,481.4 L983.5,480.3 L1001.9,484.8 L1020.3,486.5 L1038.8,484.4 L1057.2,484.4 L1075.6,486.3 L1094.0,481.6 L1112.4,473.3 L1130.9,475.5 L1149.3,474.4 L1167.7,475.6 L1186.1,484.8 L1204.6,494.1 L1223.0,498.1 L1241.4,500.5 L1259.8,503.1 L1278.2,505.4 L1296.7,500.5 L1315.1,501.3 L1333.5,499.6 L1351.9,500.7 L1370.3,498.2 L1388.8,502.9 L1407.2,498.1 L1425.6,496.2 L1444.0,494.9 L1462.4,499.5 L1480.9,494.4 L1499.3,489.0 L1517.7,482.1 L1536.1,484.0 L1554.6,489.2 L1573.0,496.9 L1591.4,503.6 L1609.8,514.2 L1628.2,520.5 L1646.7,521.1 L1665.1,517.9 L1683.5,516.9 L1701.9,514.7 L1720.3,513.7 L1738.8,522.3 L1757.2,530.9 L1775.6,539.1 L1794.0,541.6 L1812.4,541.0 L1830.9,534.4 L1849.3,528.7 L1867.7,522.9 L1886.1,522.6 L1904.6,524.2 L1923.0,531.4 L1941.4,535.6 L1959.8,542.3 L1978.2,551.0 L1996.7,562.1 L2015.1,572.1 L2033.5,579.6 L2051.9,588.3 L2070.3,598.4 L2088.8,605.9 L2107.2,615.1 L2125.6,626.5 L2144.0,631.9 L2162.4,639.7 L2180.9,653.5 L2199.3,666.9 L2217.7,672.4 L2236.1,679.0 L2254.6,691.5 L2273.0,706.8 L2291.4,726.1 L2309.8,742.0 L2328.2,752.7 L2346.7,759.6 L2365.1,766.2 L2383.5,785.0 L2401.9,811.9 L2420.3,831.4 L2438.8,847.7 L2457.2,865.8 L2475.6,884.4 L2494.0,899.0 L2512.4,915.4 L2530.9,928.4 L2549.3,939.0 L2567.7,947.9 L2586.1,952.7 L2604.6,966.2 L2623.0,981.0 L2641.4,996.8 L2659.8,1010.9 L2678.2,1026.7 L2696.7,1044.8 L2715.1,1072.8 L2733.5,1106.2 L2751.9,1137.3 L2770.3,1162.8 L2788.8,1188.7 L2807.2,1214.0 L2825.6,1229.6 L2844.0,1248.4 L2862.4,1265.1 L2880.9,1277.7 L2899.3,1283.0 L2917.7,1292.1 L2936.1,1303.9 L2954.6,1313.4 L2973.0,1333.3 L2991.4,1363.9 L3009.8,1390.0 L3028.2,1406.3 L3046.7,1414.0 L3065.1,1421.3 L3083.5,1436.3 M283.5,631.2 L301.9,620.2 L320.3,613.9 L338.8,612.9 L357.2,614.8 L375.6,609.2 L394.0,603.4 L412.4,592.8 L430.9,589.5 L449.3,584.5 L467.7,581.0 L486.1,582.0 L504.6,580.3 L523.0,572.4 L541.4,568.1 L559.8,567.6 L578.2,572.9 L596.7,570.9 L615.1,561.9 L633.5,552.7 L651.9,546.9 L670.3,545.8 L688.8,541.2 L707.2,535.7 L725.6,526.4 L744.0,529.2 L762.4,526.5 L780.9,524.9 L799.3,522.0 L817.7,524.5 L836.1,527.5 L854.6,533.4 L873.0,531.9 L891.4,527.4 L909.8,525.7 L928.2,525.0 L946.7,526.1 L965.1,525.8 L983.5,525.9 L1001.9,529.0 L1020.3,529.3 L1038.8,535.3 L1057.2,536.4 L1075.6,535.9 L1094.0,533.4 L1112.4,523.4 L1130.9,515.3 L1149.3,508.6 L1167.7,510.7 L1186.1,516.3 L1204.6,527.5 L1223.0,527.0 L1241.4,524.9 L1259.8,518.1 L1278.2,513.5 L1296.7,506.3 L1315.1,500.6 L1333.5,488.3 L1351.9,478.4 L1370.3,474.1 L1388.8,475.1 L1407.2,477.6 L1425.6,484.6 L1444.0,485.4 L1462.4,489.8 L1480.9,494.1 L1499.3,499.2 L1517.7,504.1 L1536.1,506.2 L1554.6,506.4 L1573.0,504.6 L1591.4,506.9 L1609.8,507.9 L1628.2,507.8 L1646.7,505.7 L1665.1,507.8 L1683.5,508.2 L1701.9,511.1 L1720.3,511.2 L1738.8,514.0 L1757.2,520.2 L1775.6,530.3 L1794.0,544.8 L1812.4,557.0 L1830.9,563.1 L1849.3,564.5 L1867.7,566.0 L1886.1,567.8 L1904.6,568.9 L1923.0,563.2 L1941.4,561.6 L1959.8,569.9 L1978.2,578.3 L1996.7,583.9 L2015.1,592.5 L2033.5,599.0 L2051.9,604.0 L2070.3,609.7 L2088.8,613.6 L2107.2,621.6 L2125.6,628.2 L2144.0,640.2 L2162.4,647.3 L2180.9,660.0 L2199.3,679.3 L2217.7,691.0 L2236.1,698.7 L2254.6,708.8 L2273.0,724.5 L2291.4,739.0 L2309.8,746.6 L2328.2,758.2 L2346.7,766.9 L2365.1,777.2 L2383.5,783.9 L2401.9,795.4 L2420.3,806.7 L2438.8,813.5 L2457.2,824.1 L2475.6,838.3 L2494.0,856.4 L2512.4,880.8 L2530.9,915.1 L2549.3,941.4 L2567.7,956.4 L2586.1,964.8 L2604.6,971.9 L2623.0,992.6 L2641.4,1011.0 L2659.8,1030.3 L2678.2,1042.9 L2696.7,1057.3 L2715.1,1073.6 L2733.5,1089.9 L2751.9,1108.7 L2770.3,1131.8 L2788.8,1159.7 L2807.2,1190.9 L2825.6,1219.4 L2844.0,1233.4 L2862.4,1243.5 L2880.9,1251.9 L2899.3,1267.6 L2917.7,1286.9 L2936.1,1307.0 L2954.6,1330.1 L2973.0,1345.7 L2991.4,1360.5 L3009.8,1374.2 L3028.2,1386.2 L3046.7,1400.6 L3065.1,1413.6 L3083.5,1438.2 M283.5,637.6 L301.9,631.3 L320.3,622.5 L338.8,623.5 L357.2,624.6 L375.6,625.1 L394.0,620.6 L412.4,612.4 L430.9,608.0 L449.3,606.3 L467.7,605.2 L486.1,603.4 L504.6,598.2 L523.0,593.9 L541.4,585.8 L559.8,580.8 L578.2,579.8 L596.7,571.2 L615.1,563.1 L633.5,562.8 L651.9,560.9 L670.3,561.7 L688.8,559.4 L707.2,551.4 L725.6,539.8 L744.0,529.0 L762.4,522.7 L780.9,515.3 L799.3,508.5 L817.7,498.3 L836.1,489.3 L854.6,483.1 L873.0,480.4 L891.4,485.3 L909.8,486.9 L928.2,486.4 L946.7,480.0 L965.1,476.1 L983.5,472.4 L1001.9,468.8 L1020.3,463.6 L1038.8,461.7 L1057.2,461.8 L1075.6,459.1 L1094.0,451.4 L1112.4,447.6 L1130.9,441.8 L1149.3,443.3 L1167.7,445.1 L1186.1,448.9 L1204.6,449.6 L1223.0,445.5 L1241.4,448.1 L1259.8,456.5 L1278.2,468.8 L1296.7,472.4 L1315.1,466.5 L1333.5,462.6 L1351.9,458.9 L1370.3,452.9 L1388.8,448.1 L1407.2,449.7 L1425.6,455.6 L1444.0,451.1 L1462.4,441.5 L1480.9,438.0 L1499.3,434.1 L1517.7,428.3 L1536.1,424.6 L1554.6,426.3 L1573.0,424.5 L1591.4,425.8 L1609.8,425.7 L1628.2,433.0 L1646.7,439.5 L1665.1,446.2 L1683.5,452.5 L1701.9,454.1 L1720.3,465.3 L1738.8,477.6 L1757.2,482.0 L1775.6,485.1 L1794.0,488.4 L1812.4,503.2 L1830.9,514.6 L1849.3,513.5 L1867.7,516.3 L1886.1,518.1 L1904.6,522.3 L1923.0,526.5 L1941.4,530.5 L1959.8,543.1 L1978.2,555.4 L1996.7,564.0 L2015.1,573.6 L2033.5,582.9 L2051.9,595.0 L2070.3,604.4 L2088.8,618.4 L2107.2,637.3 L2125.6,654.4 L2144.0,669.4 L2162.4,684.8 L2180.9,695.4 L2199.3,700.3 L2217.7,706.6 L2236.1,719.2 L2254.6,726.4 L2273.0,737.3 L2291.4,746.0 L2309.8,748.9 L2328.2,756.6 L2346.7,775.2 L2365.1,795.5 L2383.5,813.1 L2401.9,829.3 L2420.3,840.3 L2438.8,847.8 L2457.2,855.4 L2475.6,865.4 L2494.0,881.1 L2512.4,903.7 L2530.9,928.4 L2549.3,962.6 L2567.7,988.0 L2586.1,1007.3 L2604.6,1021.4 L2623.0,1033.0 L2641.4,1045.8 L2659.8,1066.4 L2678.2,1094.9 L2696.7,1118.5 L2715.1,1137.1 L2733.5,1150.9 L2751.9,1162.5 L2770.3,1169.3 L2788.8,1184.0 L2807.2,1197.6 L2825.6,1212.9 L2844.0,1224.0 L2862.4,1240.4 L2880.9,1267.9 L2899.3,1291.9 L2917.7,1316.5 L2936.1,1338.7 L2954.6,1355.0 L2973.0,1373.2 L2991.4,1397.3 L3009.8,1421.2 L3028.2,1440.8 L3046.7,1456.9 L3065.1,1479.2 L3083.5,1504.2 M283.5,637.6 L301.9,635.4 L320.3,626.3 L338.8,620.9 L357.2,615.4 L375.6,608.7 L394.0,609.1 L412.4,607.7 L430.9,611.3 L449.3,612.4 L467.7,608.6 L486.1,600.0 L504.6,595.9 L523.0,592.4 L541.4,584.4 L559.8,580.3 L578.2,577.1 L596.7,567.1 L615.1,565.6 L633.5,563.7 L651.9,556.1 L670.3,545.9 L688.8,532.9 L707.2,526.0 L725.6,520.0 L744.0,514.7 L762.4,506.8 L780.9,493.2 L799.3,486.1 L817.7,493.9 L836.1,498.2 L854.6,493.5 L873.0,488.6 L891.4,487.5 L909.8,486.2 L928.2,485.9 L946.7,483.3 L965.1,485.1 L983.5,491.1 L1001.9,491.5 L1020.3,489.3 L1038.8,487.7 L1057.2,489.2 L1075.6,492.9 L1094.0,494.8 L1112.4,501.7 L1130.9,505.7 L1149.3,513.5 L1167.7,517.6 L1186.1,514.1 L1204.6,510.9 L1223.0,512.2 L1241.4,522.7 L1259.8,534.6 L1278.2,541.3 L1296.7,544.8 L1315.1,544.2 L1333.5,540.9 L1351.9,537.0 L1370.3,539.0 L1388.8,534.4 L1407.2,528.4 L1425.6,528.1 L1444.0,532.0 L1462.4,530.7 L1480.9,535.9 L1499.3,534.8 L1517.7,531.1 L1536.1,527.0 L1554.6,525.1 L1573.0,525.5 L1591.4,528.7 L1609.8,533.6 L1628.2,537.1 L1646.7,537.2 L1665.1,535.4 L1683.5,532.0 L1701.9,522.6 L1720.3,516.4 L1738.8,513.6 L1757.2,509.6 L1775.6,507.3 L1794.0,504.5 L1812.4,508.4 L1830.9,516.6 L1849.3,524.6 L1867.7,528.5 L1886.1,533.7 L1904.6,541.7 L1923.0,551.3 L1941.4,557.3 L1959.8,559.1 L1978.2,556.3 L1996.7,552.7 L2015.1,552.4 L2033.5,554.0 L2051.9,557.6 L2070.3,569.6 L2088.8,580.6 L2107.2,593.7 L2125.6,605.7 L2144.0,622.6 L2162.4,641.1 L2180.9,651.1 L2199.3,660.4 L2217.7,673.1 L2236.1,683.2 L2254.6,688.5 L2273.0,692.6 L2291.4,698.1 L2309.8,708.9 L2328.2,720.9 L2346.7,729.0 L2365.1,736.6 L2383.5,755.7 L2401.9,772.2 L2420.3,787.1 L2438.8,798.6 L2457.2,813.9 L2475.6,830.7 L2494.0,851.7 L2512.4,873.4 L2530.9,905.1 L2549.3,934.6 L2567.7,949.1 L2586.1,963.7 L2604.6,979.2 L2623.0,994.4 L2641.4,1014.6 L2659.8,1025.1 L2678.2,1034.5 L2696.7,1053.5 L2715.1,1078.1 L2733.5,1094.6 L2751.9,1114.6 L2770.3,1146.1 L2788.8,1175.0 L2807.2,1202.4 L2825.6,1214.7 L2844.0,1230.4 L2862.4,1251.3 L2880.9,1276.0 L2899.3,1292.8 L2917.7,1305.0 L2936.1,1319.1 L2954.6,1331.9 L2973.0,1341.8 L2991.4,1356.4 L3009.8,1374.2 L3028.2,1389.0 L3046.7,1396.9 L3065.1,1399.4 L3083.5,1396.9 M283.5,593.2 L301.9,583.3 L320.3,571.8 L338.8,560.6 L357.2,550.7 L375.6,541.4 L394.0,533.9 L412.4,532.6 L430.9,531.6 L449.3,531.4 L467.7,530.2 L486.1,529.8 L504.6,531.0 L523.0,529.8 L541.4,524.1 L559.8,514.3 L578.2,505.8 L596.7,493.5 L615.1,489.7 L633.5,491.0 L651.9,482.3 L670.3,476.8 L688.8,475.3 L707.2,474.5 L725.6,472.1 L744.0,473.7 L762.4,471.5 L780.9,467.2 L799.3,466.0 L817.7,469.9 L836.1,472.9 L854.6,479.6 L873.0,478.2 L891.4,475.2 L909.8,472.3 L928.2,468.2 L946.7,462.2 L965.1,447.3 L983.5,434.2 L1001.9,423.3 L1020.3,415.7 L1038.8,409.2 L1057.2,404.2 L1075.6,401.3 L1094.0,401.1 L1112.4,403.4 L1130.9,410.3 L1149.3,416.7 L1167.7,422.8 L1186.1,427.8 L1204.6,428.0 L1223.0,430.9 L1241.4,435.5 L1259.8,441.7 L1278.2,448.8 L1296.7,452.7 L1315.1,450.4 L1333.5,447.2 L1351.9,450.9 L1370.3,454.7 L1388.8,454.4 L1407.2,455.2 L1425.6,454.2 L1444.0,453.6 L1462.4,455.5 L1480.9,456.5 L1499.3,457.8 L1517.7,457.9 L1536.1,460.5 L1554.6,464.9 L1573.0,475.9 L1591.4,486.7 L1609.8,493.4 L1628.2,496.0 L1646.7,495.2 L1665.1,497.1 L1683.5,496.5 L1701.9,503.0 L1720.3,508.3 L1738.8,510.6 L1757.2,517.9 L1775.6,523.1 L1794.0,525.3 L1812.4,524.0 L1830.9,528.4 L1849.3,536.7 L1867.7,537.8 L1886.1,542.6 L1904.6,546.4 L1923.0,556.5 L1941.4,566.8 L1959.8,575.8 L1978.2,583.1 L1996.7,594.2 L2015.1,601.8 L2033.5,613.1 L2051.9,623.6 L2070.3,635.1 L2088.8,643.3 L2107.2,650.4 L2125.6,654.9 L2144.0,665.5 L2162.4,680.2 L2180.9,695.5 L2199.3,710.6 L2217.7,727.8 L2236.1,742.8 L2254.6,760.9 L2273.0,772.5 L2291.4,784.1 L2309.8,793.9 L2328.2,802.8 L2346.7,818.7 L2365.1,836.9 L2383.5,851.1 L2401.9,869.7 L2420.3,892.1 L2438.8,914.5 L2457.2,945.7 L2475.6,972.1 L2494.0,989.7 L2512.4,1003.7 L2530.9,1023.9 L2549.3,1045.1 L2567.7,1060.5 L2586.1,1068.7 L2604.6,1075.7 L2623.0,1088.3 L2641.4,1106.3 L2659.8,1125.3 L2678.2,1141.8 L2696.7,1162.1 L2715.1,1185.1 L2733.5,1196.9 L2751.9,1209.5 L2770.3,1227.8 L2788.8,1254.2 L2807.2,1279.7 L2825.6,1298.7 L2844.0,1309.5 L2862.4,1324.1 L2880.9,1344.1 L2899.3,1368.2 L2917.7,1393.1 L2936.1,1415.8 L2954.6,1431.5 L2973.0,1445.5 L2991.4,1459.8 L3009.8,1471.2 L3028.2,1487.1 L3046.7,1495.6 L3065.1,1502.4 L3083.5,1510.6 M283.5,478.9 L301.9,473.3 L320.3,468.6 L338.8,462.8 L357.2,456.0 L375.6,450.1 L394.0,447.0 L412.4,443.7 L430.9,439.4 L449.3,436.1 L467.7,434.3 L486.1,431.2 L504.6,427.6 L523.0,425.1 L541.4,423.9 L559.8,424.3 L578.2,424.1 L596.7,424.3 L615.1,418.4 L633.5,411.8 L651.9,406.0 L670.3,402.0 L688.8,406.6 L707.2,410.5 L725.6,414.6 L744.0,410.6 L762.4,406.4 L780.9,403.2 L799.3,399.8 L817.7,400.9 L836.1,402.2 L854.6,402.5 L873.0,397.3 L891.4,392.4 L909.8,388.7 L928.2,385.2 L946.7,383.4 L965.1,381.5 L983.5,379.0 L1001.9,371.7 L1020.3,364.1 L1038.8,355.9 L1057.2,348.6 L1075.6,341.2 L1094.0,333.4 L1112.4,326.9 L1130.9,322.3 L1149.3,318.6 L1167.7,315.1 L1186.1,315.3 L1204.6,315.9 L1223.0,316.5 L1241.4,320.2 L1259.8,324.4 L1278.2,327.0 L1296.7,326.9 L1315.1,324.6 L1333.5,328.0 L1351.9,332.0 L1370.3,339.9 L1388.8,347.7 L1407.2,356.4 L1425.6,364.4 L1444.0,367.7 L1462.4,369.6 L1480.9,371.9 L1499.3,376.6 L1517.7,381.5 L1536.1,385.2 L1554.6,388.8 L1573.0,393.1 L1591.4,397.4 L1609.8,401.3 L1628.2,405.2 L1646.7,409.8 L1665.1,415.7 L1683.5,419.6 L1701.9,416.1 L1720.3,415.3 L1738.8,426.5 L1757.2,437.0 L1775.6,443.8 L1794.0,451.5 L1812.4,457.1 L1830.9,460.1 L1849.3,463.3 L1867.7,466.3 L1886.1,467.3 L1904.6,468.2 L1923.0,470.2 L1941.4,478.1 L1959.8,486.0 L1978.2,493.4 L1996.7,499.0 L2015.1,504.6 L2033.5,510.1 L2051.9,515.8 L2070.3,521.3 L2088.8,526.4 L2107.2,532.2 L2125.6,538.3 L2144.0,546.9 L2162.4,556.1 L2180.9,565.1 L2199.3,573.0 L2217.7,583.5 L2236.1,594.9 L2254.6,605.5 L2273.0,616.7 L2291.4,628.1 L2309.8,639.1 L2328.2,649.8 L2346.7,660.0 L2365.1,671.3 L2383.5,683.3 L2401.9,693.7 L2420.3,703.3 L2438.8,715.2 L2457.2,729.7 L2475.6,744.4 L2494.0,760.8 L2512.4,777.8 L2530.9,795.2 L2549.3,811.4 L2567.7,827.8 L2586.1,844.1 L2604.6,860.3 L2623.0,877.6 L2641.4,896.7 L2659.8,915.6 L2678.2,935.2 L2696.7,954.2 L2715.1,968.1 L2733.5,982.7 L2751.9,997.3 L2770.3,1010.9 L2788.8,1021.6 L2807.2,1032.3 L2825.6,1043.2 L2844.0,1053.1 L2862.4,1070.3 L2880.9,1090.7 L2899.3,1111.2 L2917.7,1135.3 L2936.1,1159.8 L2954.6,1184.1 L2973.0,1198.0 L2991.4,1209.6 L3009.8,1222.0 L3028.2,1234.1 L3046.7,1244.4 L3065.1,1253.9 L3083.5,1263.8 M283.5,502.7 L301.9,501.1 L320.3,501.4 L338.8,499.6 L357.2,493.1 L375.6,488.4 L394.0,484.5 L412.4,479.3 L430.9,473.9 L449.3,467.8 L467.7,461.9 L486.1,459.0 L504.6,456.8 L523.0,453.3 L541.4,448.3 L559.8,443.4 L578.2,441.0 L596.7,437.8 L615.1,432.1 L633.5,426.6 L651.9,421.0 L670.3,415.8 L688.8,413.7 L707.2,411.3 L725.6,409.4 L744.0,407.6 L762.4,404.9 L780.9,401.7 L799.3,399.6 L817.7,400.9 L836.1,401.3 L854.6,402.2 L873.0,401.9 L891.4,400.8 L909.8,399.7 L928.2,399.1 L946.7,398.7 L965.1,398.0 L983.5,396.6 L1001.9,394.8 L1020.3,394.1 L1038.8,391.5 L1057.2,385.8 L1075.6,381.0 L1094.0,375.1 L1112.4,371.9 L1130.9,371.8 L1149.3,371.2 L1167.7,371.0 L1186.1,371.7 L1204.6,372.9 L1223.0,374.3 L1241.4,374.4 L1259.8,375.4 L1278.2,378.6 L1296.7,380.9 L1315.1,381.3 L1333.5,380.2 L1351.9,378.3 L1370.3,377.2 L1388.8,376.1 L1407.2,377.3 L1425.6,380.4 L1444.0,384.2 L1462.4,387.5 L1480.9,390.0 L1499.3,391.6 L1517.7,389.9 L1536.1,389.8 L1554.6,390.8 L1573.0,392.8 L1591.4,393.1 L1609.8,392.9 L1628.2,393.6 L1646.7,394.8 L1665.1,397.1 L1683.5,399.9 L1701.9,403.3 L1720.3,406.5 L1738.8,410.0 L1757.2,413.0 L1775.6,415.4 L1794.0,418.3 L1812.4,423.6 L1830.9,430.2 L1849.3,436.6 L1867.7,442.6 L1886.1,448.3 L1904.6,453.6 L1923.0,458.6 L1941.4,463.7 L1959.8,469.0 L1978.2,477.6 L1996.7,486.5 L2015.1,494.9 L2033.5,502.1 L2051.9,510.2 L2070.3,520.1 L2088.8,530.6 L2107.2,540.9 L2125.6,551.0 L2144.0,559.8 L2162.4,568.4 L2180.9,578.0 L2199.3,589.0 L2217.7,600.8 L2236.1,611.8 L2254.6,621.5 L2273.0,630.6 L2291.4,640.5 L2309.8,654.7 L2328.2,669.9 L2346.7,683.5 L2365.1,695.1 L2383.5,707.2 L2401.9,722.1 L2420.3,736.7 L2438.8,750.4 L2457.2,765.2 L2475.6,780.3 L2494.0,795.0 L2512.4,810.4 L2530.9,826.3 L2549.3,841.4 L2567.7,857.9 L2586.1,875.3 L2604.6,892.1 L2623.0,910.2 L2641.4,928.4 L2659.8,945.2 L2678.2,961.9 L2696.7,979.1 L2715.1,996.2 L2733.5,1013.4 L2751.9,1034.0 L2770.3,1055.9 L2788.8,1077.4 L2807.2,1098.9 L2825.6,1117.4 L2844.0,1136.5 L2862.4,1155.5 L2880.9,1172.5 L2899.3,1188.6 L2917.7,1204.5 L2936.1,1221.6 L2954.6,1238.4 L2973.0,1259.4 L2991.4,1281.6 L3009.8,1299.7 L3028.2,1307.9 L3046.7,1316.6 L3065.1,1326.7 L3083.5,1337.6 M283.5,725.8 L301.9,717.0 L320.3,708.6 L338.8,699.8 L357.2,691.7 L375.6,683.7 L394.0,675.3 L412.4,667.4 L430.9,660.2 L449.3,653.5 L467.7,646.5 L486.1,642.1 L504.6,640.4 L523.0,638.6 L541.4,636.9 L559.8,635.6 L578.2,634.2 L596.7,632.6 L615.1,631.3 L633.5,629.7 L651.9,627.9 L670.3,626.8 L688.8,624.0 L707.2,619.0 L725.6,614.3 L744.0,610.2 L762.4,605.9 L780.9,600.6 L799.3,594.5 L817.7,592.8 L836.1,593.3 L854.6,597.4 L873.0,598.1 L891.4,598.8 L909.8,599.2 L928.2,595.0 L946.7,589.7 L965.1,583.5 L983.5,582.2 L1001.9,581.4 L1020.3,581.6 L1038.8,581.9 L1057.2,583.2 L1075.6,584.6 L1094.0,585.1 L1112.4,585.3 L1130.9,585.8 L1149.3,585.0 L1167.7,583.1 L1186.1,584.3 L1204.6,584.7 L1223.0,584.8 L1241.4,585.1 L1259.8,585.6 L1278.2,586.1 L1296.7,585.8 L1315.1,585.0 L1333.5,583.9 L1351.9,582.7 L1370.3,582.1 L1388.8,583.2 L1407.2,583.5 L1425.6,588.7 L1444.0,595.1 L1462.4,601.0 L1480.9,606.0 L1499.3,609.9 L1517.7,611.4 L1536.1,614.0 L1554.6,616.9 L1573.0,619.1 L1591.4,618.8 L1609.8,618.5 L1628.2,619.9 L1646.7,620.8 L1665.1,622.4 L1683.5,628.1 L1701.9,632.8 L1720.3,635.3 L1738.8,637.7 L1757.2,637.1 L1775.6,636.6 L1794.0,637.1 L1812.4,637.7 L1830.9,639.8 L1849.3,644.7 L1867.7,652.9 L1886.1,661.6 L1904.6,669.9 L1923.0,678.8 L1941.4,688.3 L1959.8,698.0 L1978.2,707.3 L1996.7,714.1 L2015.1,721.4 L2033.5,729.3 L2051.9,737.1 L2070.3,748.1 L2088.8,756.9 L2107.2,764.6 L2125.6,772.0 L2144.0,778.7 L2162.4,785.6 L2180.9,792.9 L2199.3,800.0 L2217.7,812.1 L2236.1,824.1 L2254.6,836.2 L2273.0,849.0 L2291.4,860.2 L2309.8,871.0 L2328.2,881.8 L2346.7,892.5 L2365.1,903.3 L2383.5,914.6 L2401.9,928.4 L2420.3,942.2 L2438.8,956.2 L2457.2,975.8 L2475.6,995.7 L2494.0,1015.7 L2512.4,1039.1 L2530.9,1062.6 L2549.3,1085.8 L2567.7,1109.5 L2586.1,1133.2 L2604.6,1154.9 L2623.0,1173.5 L2641.4,1193.0 L2659.8,1213.0 L2678.2,1232.2 L2696.7,1247.8 L2715.1,1263.2 L2733.5,1277.9 L2751.9,1293.1 L2770.3,1307.0 L2788.8,1318.9 L2807.2,1330.3 L2825.6,1342.5 L2844.0,1354.7 L2862.4,1366.1 L2880.9,1378.2 L2899.3,1390.9 L2917.7,1403.2 L2936.1,1416.4 L2954.6,1429.8 L2973.0,1442.7 L2991.4,1455.4 L3009.8,1470.4 L3028.2,1487.9 L3046.7,1505.0 L3065.1,1521.8 L3083.5,1539.2 M283.5,590.4 L301.9,586.2 L320.3,580.9 L338.8,574.4 L357.2,567.1 L375.6,559.3 L394.0,551.1 L412.4,542.7 L430.9,534.5 L449.3,527.4 L467.7,520.2 L486.1,514.4 L504.6,511.1 L523.0,507.6 L541.4,504.0 L559.8,500.6 L578.2,497.2 L596.7,494.3 L615.1,490.8 L633.5,486.9 L651.9,482.9 L670.3,478.7 L688.8,474.9 L707.2,472.0 L725.6,470.6 L744.0,470.5 L762.4,471.1 L780.9,471.7 L799.3,472.0 L817.7,472.3 L836.1,471.2 L854.6,469.4 L873.0,469.0 L891.4,468.6 L909.8,466.5 L928.2,464.2 L946.7,463.1 L965.1,462.6 L983.5,462.4 L1001.9,462.2 L1020.3,461.9 L1038.8,461.7 L1057.2,462.6 L1075.6,463.8 L1094.0,464.6 L1112.4,465.7 L1130.9,466.5 L1149.3,466.8 L1167.7,467.1 L1186.1,467.2 L1204.6,467.3 L1223.0,468.3 L1241.4,469.5 L1259.8,470.1 L1278.2,470.6 L1296.7,471.7 L1315.1,473.5 L1333.5,474.9 L1351.9,475.8 L1370.3,476.4 L1388.8,477.0 L1407.2,478.1 L1425.6,479.6 L1444.0,481.8 L1462.4,484.4 L1480.9,486.2 L1499.3,486.7 L1517.7,487.1 L1536.1,488.5 L1554.6,491.2 L1573.0,494.5 L1591.4,497.7 L1609.8,500.3 L1628.2,501.8 L1646.7,503.2 L1665.1,506.6 L1683.5,510.5 L1701.9,513.3 L1720.3,516.4 L1738.8,520.1 L1757.2,524.0 L1775.6,527.6 L1794.0,530.9 L1812.4,534.2 L1830.9,537.2 L1849.3,540.4 L1867.7,543.7 L1886.1,555.0 L1904.6,565.6 L1923.0,576.1 L1941.4,587.7 L1959.8,599.1 L1978.2,610.6 L1996.7,621.9 L2015.1,632.8 L2033.5,644.5 L2051.9,657.8 L2070.3,681.2 L2088.8,704.2 L2107.2,725.5 L2125.6,747.3 L2144.0,770.8 L2162.4,794.4 L2180.9,813.1 L2199.3,827.7 L2217.7,841.4 L2236.1,853.2 L2254.6,866.5 L2273.0,880.6 L2291.4,894.9 L2309.8,908.9 L2328.2,922.4 L2346.7,933.2 L2365.1,943.9 L2383.5,954.3 L2401.9,967.2 L2420.3,980.7 L2438.8,993.4 L2457.2,1010.6 L2475.6,1028.6 L2494.0,1046.9 L2512.4,1065.1 L2530.9,1084.1 L2549.3,1103.0 L2567.7,1122.1 L2586.1,1141.4 L2604.6,1160.4 L2623.0,1178.8 L2641.4,1197.6 L2659.8,1221.0 L2678.2,1244.9 L2696.7,1270.1 L2715.1,1296.7 L2733.5,1322.4 L2751.9,1346.7 L2770.3,1364.6 L2788.8,1382.2 L2807.2,1396.2 L2825.6,1409.8 L2844.0,1424.4 L2862.4,1439.7 L2880.9,1454.6 L2899.3,1466.2 L2917.7,1477.7 L2936.1,1489.4 L2954.6,1501.1 L2973.0,1512.1 L2991.4,1523.1 L3009.8,1534.2 L3028.2,1547.1 L3046.7,1562.6 L3065.1,1578.9 L3083.5,1593.6 M283.5,596.9 L301.9,593.3 L320.3,590.2 L338.8,588.2 L357.2,586.4 L375.6,583.4 L394.0,580.2 L412.4,577.2 L430.9,573.9 L449.3,569.9 L467.7,565.9 L486.1,562.5 L504.6,559.1 L523.0,555.5 L541.4,552.3 L559.8,549.0 L578.2,544.5 L596.7,540.0 L615.1,536.8 L633.5,534.1 L651.9,531.3 L670.3,527.5 L688.8,524.0 L707.2,521.2 L725.6,517.7 L744.0,513.9 L762.4,511.8 L780.9,511.3 L799.3,510.5 L817.7,509.4 L836.1,509.2 L854.6,509.5 L873.0,508.8 L891.4,507.2 L909.8,505.9 L928.2,504.7 L946.7,503.5 L965.1,502.8 L983.5,503.3 L1001.9,505.2 L1020.3,506.9 L1038.8,507.5 L1057.2,508.1 L1075.6,510.3 L1094.0,513.4 L1112.4,516.3 L1130.9,518.4 L1149.3,519.9 L1167.7,520.6 L1186.1,519.9 L1204.6,518.1 L1223.0,515.7 L1241.4,512.8 L1259.8,509.7 L1278.2,507.5 L1296.7,505.7 L1315.1,503.7 L1333.5,503.8 L1351.9,505.9 L1370.3,507.4 L1388.8,508.3 L1407.2,510.1 L1425.6,512.4 L1444.0,514.1 L1462.4,515.4 L1480.9,515.9 L1499.3,515.4 L1517.7,514.2 L1536.1,512.7 L1554.6,511.7 L1573.0,512.4 L1591.4,514.8 L1609.8,517.6 L1628.2,520.5 L1646.7,523.6 L1665.1,526.7 L1683.5,529.7 L1701.9,532.4 L1720.3,533.9 L1738.8,534.4 L1757.2,535.0 L1775.6,536.1 L1794.0,538.4 L1812.4,541.5 L1830.9,544.7 L1849.3,549.2 L1867.7,555.2 L1886.1,561.8 L1904.6,568.4 L1923.0,574.7 L1941.4,581.9 L1959.8,589.4 L1978.2,597.7 L1996.7,607.8 L2015.1,618.7 L2033.5,628.9 L2051.9,638.3 L2070.3,648.4 L2088.8,658.4 L2107.2,667.3 L2125.6,677.2 L2144.0,687.6 L2162.4,697.7 L2180.9,707.1 L2199.3,717.4 L2217.7,729.6 L2236.1,741.5 L2254.6,752.4 L2273.0,764.2 L2291.4,775.4 L2309.8,784.5 L2328.2,792.9 L2346.7,801.5 L2365.1,811.5 L2383.5,822.6 L2401.9,845.3 L2420.3,868.1 L2438.8,891.2 L2457.2,913.7 L2475.6,936.1 L2494.0,958.3 L2512.4,980.3 L2530.9,1003.2 L2549.3,1026.9 L2567.7,1051.5 L2586.1,1076.3 L2604.6,1100.3 L2623.0,1125.4 L2641.4,1152.8 L2659.8,1179.7 L2678.2,1206.9 L2696.7,1234.6 L2715.1,1263.3 L2733.5,1291.4 L2751.9,1318.3 L2770.3,1344.2 L2788.8,1369.7 L2807.2,1394.4 L2825.6,1412.4 L2844.0,1428.8 L2862.4,1445.5 L2880.9,1462.2 L2899.3,1475.1 L2917.7,1487.6 L2936.1,1501.4 L2954.6,1518.9 L2973.0,1535.4 L2991.4,1554.4 L3009.8,1574.5 L3028.2,1595.6 L3046.7,1617.4 L3065.1,1638.1 L3083.5,1654.4" fill="none" stroke="#000" stroke-opacity="0.82" stroke-width="0.9" stroke-linejoin="round"/>
<path d="M283.5,566.7 L301.9,562.0 L320.3,557.3 L338.8,552.8 L357.2,548.3 L375.6,544.0 L394.0,539.7 L412.4,535.6 L430.9,531.5 L449.3,527.5 L467.7,523.7 L486.1,519.9 L504.6,516.2 L523.0,512.7 L541.4,509.2 L559.8,505.8 L578.2,502.5 L596.7,499.3 L615.1,496.2 L633.5,493.2 L651.9,490.3 L670.3,487.5 L688.8,484.8 L707.2,482.2 L725.6,479.7 L744.0,477.2 L762.4,474.9 L780.9,472.6 L799.3,470.5 L817.7,468.4 L836.1,466.5 L854.6,464.6 L873.0,462.8 L891.4,461.1 L909.8,459.5 L928.2,458.0 L946.7,456.6 L965.1,455.3 L983.5,454.0 L1001.9,452.9 L1020.3,451.9 L1038.8,450.9 L1057.2,450.0 L1075.6,449.2 L1094.0,448.5 L1112.4,447.9 L1130.9,447.4 L1149.3,446.9 L1167.7,446.4 L1186.1,446.1 L1204.6,445.8 L1223.0,445.5 L1241.4,445.3 L1259.8,445.2 L1278.2,445.0 L1296.7,445.0 L1315.1,445.0 L1333.5,445.0 L1351.9,445.2 L1370.3,445.4 L1388.8,445.8 L1407.2,446.4 L1425.6,447.1 L1444.0,448.0 L1462.4,449.1 L1480.9,450.4 L1499.3,451.9 L1517.7,453.7 L1536.1,455.8 L1554.6,458.1 L1573.0,460.7 L1591.4,463.5 L1609.8,466.5 L1628.2,469.8 L1646.7,473.3 L1665.1,476.9 L1683.5,480.8 L1701.9,484.8 L1720.3,488.9 L1738.8,493.3 L1757.2,497.7 L1775.6,502.3 L1794.0,507.0 L1812.4,511.8 L1830.9,516.8 L1849.3,522.0 L1867.7,527.4 L1886.1,533.0 L1904.6,538.9 L1923.0,545.1 L1941.4,551.6 L1959.8,558.4 L1978.2,565.5 L1996.7,573.0 L2015.1,580.9 L2033.5,589.2 L2051.9,597.7 L2070.3,606.6 L2088.8,615.8 L2107.2,625.3 L2125.6,635.1 L2144.0,645.1 L2162.4,655.4 L2180.9,665.9 L2199.3,676.7 L2217.7,687.6 L2236.1,698.7 L2254.6,710.1 L2273.0,721.6 L2291.4,733.4 L2309.8,745.3 L2328.2,757.5 L2346.7,769.8 L2365.1,782.4 L2383.5,795.2 L2401.9,808.2 L2420.3,821.4 L2438.8,834.9 L2457.2,848.7 L2475.6,862.8 L2494.0,877.4 L2512.4,892.3 L2530.9,907.6 L2549.3,923.5 L2567.7,939.8 L2586.1,956.6 L2604.6,973.9 L2623.0,991.6 L2641.4,1009.9 L2659.8,1028.6 L2678.2,1047.7 L2696.7,1067.2 L2715.1,1087.1 L2733.5,1107.2 L2751.9,1127.5 L2770.3,1148.1 L2788.8,1168.7 L2807.2,1189.5 L2825.6,1210.2 L2844.0,1231.0 L2862.4,1251.6 L2880.9,1272.1 L2899.3,1292.4 L2917.7,1312.4 L2936.1,1332.1 L2954.6,1351.3 L2973.0,1370.1 L2991.4,1388.4 L3009.8,1405.9 L3028.2,1422.8 L3046.7,1438.8 L3065.1,1454.0 L3083.5,1468.2" fill="none" stroke="#000" stroke-width="12.5" stroke-dasharray="46.25 20" stroke-linejoin="round"/>
<path d="M283.5,787.2 L301.9,783.6 L320.3,779.5 L338.8,776.8 L357.2,774.2 L375.6,772.4 L394.0,769.1 L412.4,766.9 L430.9,763.6 L449.3,761.4 L467.7,760.3 L486.1,761.9 L504.6,757.5 L523.0,745.0 L541.4,725.2 L559.8,715.7 L578.2,709.8 L596.7,703.2 L615.1,699.9 L633.5,694.4 L651.9,688.9 L670.3,681.8 L688.8,677.9 L707.2,671.3 L725.6,665.8 L744.0,661.4 L762.4,654.8 L780.9,649.0 L799.3,643.0 L817.7,637.0 L836.1,631.5 L854.6,625.4 L873.0,617.7 L891.4,607.8 L909.8,599.0 L928.2,592.4 L946.7,589.8 L965.1,587.3 L983.5,590.9 L1001.9,590.4 L1020.3,591.7 L1038.8,593.5 L1057.2,591.3 L1075.6,591.3 L1094.0,592.8 L1112.4,592.0 L1130.9,592.4 L1149.3,592.8 L1167.7,593.5 L1186.1,599.6 L1204.6,604.0 L1223.0,610.0 L1241.4,616.6 L1259.8,622.1 L1278.2,625.0 L1296.7,623.2 L1315.1,619.9 L1333.5,615.9 L1351.9,611.5 L1370.3,610.6 L1388.8,612.2 L1407.2,613.7 L1425.6,617.7 L1444.0,621.6 L1462.4,626.9 L1480.9,634.8 L1499.3,637.5 L1517.7,639.0 L1536.1,637.9 L1554.6,639.7 L1573.0,646.3 L1591.4,655.1 L1609.8,662.1 L1628.2,666.7 L1646.7,672.6 L1665.1,673.7 L1683.5,677.0 L1701.9,676.6 L1720.3,678.1 L1738.8,682.5 L1757.2,686.5 L1775.6,689.9 L1794.0,691.5 L1812.4,691.1 L1830.9,690.6 L1849.3,690.6 L1867.7,691.1 L1886.1,694.4 L1904.6,697.7 L1923.0,703.2 L1941.4,712.0 L1959.8,719.2 L1978.2,726.7 L1996.7,735.1 L2015.1,741.7 L2033.5,743.9 L2051.9,745.0 L2070.3,743.9 L2088.8,743.9 L2107.2,744.5 L2125.6,746.1 L2144.0,751.5 L2162.4,757.5 L2180.9,764.7 L2199.3,773.8 L2217.7,785.8 L2236.1,798.2 L2254.6,810.7 L2273.0,823.8 L2291.4,836.9 L2309.8,850.1 L2328.2,863.3 L2346.7,877.6 L2365.1,891.9 L2383.5,906.3 L2401.9,922.0 L2420.3,938.4 L2438.8,952.9 L2457.2,968.3 L2475.6,983.2 L2494.0,1010.6 L2512.4,1036.7 L2530.9,1065.0 L2549.3,1087.5 L2567.7,1110.8 L2586.1,1134.6 L2604.6,1157.3 L2623.0,1178.8 L2641.4,1197.8 L2659.8,1220.1 L2678.2,1238.5 L2696.7,1256.8 L2715.1,1271.5 L2733.5,1285.8 L2751.9,1299.5 L2770.3,1313.3 L2788.8,1326.9 L2807.2,1338.9 L2825.6,1350.6 L2844.0,1361.5 L2862.4,1374.0 L2880.9,1384.8 L2899.3,1397.1 L2917.7,1407.9 L2936.1,1419.1 L2954.6,1432.2 L2973.0,1444.8 L2991.4,1457.3 L3009.8,1470.1 L3028.2,1484.9 L3046.7,1499.6 L3065.1,1513.8 L3083.5,1528.0" fill="none" stroke="#000" stroke-width="12.5" stroke-linejoin="round" stroke-linecap="square"/>
<path d="M283.5,696.6 L301.9,687.3 L320.3,683.2 L338.8,681.6 L357.2,679.2 L375.6,676.8 L394.0,674.6 L412.4,672.0 L430.9,671.3 L449.3,668.0 L467.7,662.5 L486.1,654.8 L504.6,646.0 L523.0,637.9 L541.4,633.5 L559.8,633.9 L578.2,631.7 L596.7,628.4 L615.1,625.1 L633.5,620.7 L651.9,614.1 L670.3,606.4 L688.8,599.4 L707.2,595.4 L725.6,591.0 L744.0,587.3 L762.4,581.1 L780.9,575.8 L799.3,569.3 L817.7,562.3 L836.1,557.2 L854.6,551.7 L873.0,546.2 L891.4,546.9 L909.8,548.4 L928.2,547.3 L946.7,546.2 L965.1,544.7 L983.5,542.9 L1001.9,539.0 L1020.3,535.2 L1038.8,531.5 L1057.2,526.4 L1075.6,522.0 L1094.0,519.8 L1112.4,519.8 L1130.9,522.0 L1149.3,524.2 L1167.7,526.0 L1186.1,526.4 L1204.6,529.1 L1223.0,529.7 L1241.4,530.4 L1259.8,533.7 L1278.2,535.8 L1296.7,534.6 L1315.1,533.7 L1333.5,539.0 L1351.9,544.0 L1370.3,548.4 L1388.8,549.5 L1407.2,549.1 L1425.6,550.6 L1444.0,550.6 L1462.4,554.4 L1480.9,557.9 L1499.3,558.3 L1517.7,559.4 L1536.1,562.3 L1554.6,564.9 L1573.0,565.3 L1591.4,568.2 L1609.8,573.7 L1628.2,578.1 L1646.7,582.9 L1665.1,587.3 L1683.5,589.1 L1701.9,592.4 L1720.3,596.8 L1738.8,599.6 L1757.2,601.8 L1775.6,604.9 L1794.0,607.1 L1812.4,611.5 L1830.9,616.3 L1849.3,620.7 L1867.7,627.3 L1886.1,636.6 L1904.6,644.9 L1923.0,651.5 L1941.4,658.1 L1959.8,663.6 L1978.2,669.5 L1996.7,675.7" fill="none" stroke="#ff0000" stroke-width="15.6" stroke-linejoin="round" stroke-linecap="square"/>
</g>
<path d="M283.5,2080.5 v21.9 M854.5,2080.5 v21.9 M1407.5,2080.5 v21.9 M1977.5,2080.5 v21.9 M2530.5,2080.5 v21.9 M283.5,2080.5 h-21.9 M283.5,1644.5 h-21.9 M283.5,1207.5 h-21.9 M283.5,771.5 h-21.9 M283.5,334.5 h-21.9" stroke="#000" stroke-width="5" fill="none"/>
<rect x="283.5" y="160.5" width="2800.0" height="1920.0" fill="none" stroke="#000" stroke-width="5"/>
<g font-family="'Liberation Sans', 'Noto Sans CJK JP', sans-serif" fill="#000">
<text x="282.4" y="2171.6" font-size="62.5" text-anchor="middle">8月</text>
<text x="854.6" y="2171.6" font-size="62.5" text-anchor="middle">9月</text>
<text x="1407.1" y="2171.6" font-size="62.5" text-anchor="middle">10月</text>
<text x="1977.7" y="2171.6" font-size="62.5" text-anchor="middle">11月</text>
<text x="2530.3" y="2171.6" font-size="62.5" text-anchor="middle">12月</text>
<text x="238.9" y="2102.9" font-size="62.5" text-anchor="end">0</text>
<text x="238.9" y="1666.54" font-size="62.5" text-anchor="end">5</text>
<text x="238.9" y="1230.17" font-size="62.5" text-anchor="end">10</text>
<text x="238.9" y="793.81" font-size="62.5" text-anchor="end">15</text>
<text x="238.9" y="357.45" font-size="62.5" text-anchor="end">20</text>
<text x="1683.5" y="122" font-size="75" text-anchor="middle">1979年から2025年まで（47年分）の南極海氷域面積の変化（8月1日〜12月31日）</text>
<text transform="translate(124.5,1124) rotate(-90)" x="0" y="0" font-size="75" text-anchor="middle">海氷域面積（百万平方キロメートル）</text>
</g>
<rect x="2419.2" y="191.2" width="632.4000000000001" height="288.8" rx="12.5" fill="#fff" fill-opacity="0.8" stroke="#ccc" stroke-opacity="0.8" stroke-width="6.25"/>
<path d="M2444.3,241.5 H2569.7" stroke="#000" stroke-width="12.5" stroke-dasharray="46.25 20"/>
<path d="M2444.3,331.6 H2569.7" stroke="#000" stroke-width="12.5" stroke-linecap="square"/>
<path d="M2444.3,421.9 H2569.7" stroke="#ff0000" stroke-width="15.6" stroke-linecap="square"/>
<g font-family="'Liberation Sans', 'Noto Sans CJK JP', sans-serif" fill="#000" font-size="62.5">
<text x="2618.3" y="262.8">2010年代平均</text>
<text x="2618.3" y="353">2023年</text>
<text x="2618.3" y="443.5">2025年</text>
</g>
</svg>
</body></html>
